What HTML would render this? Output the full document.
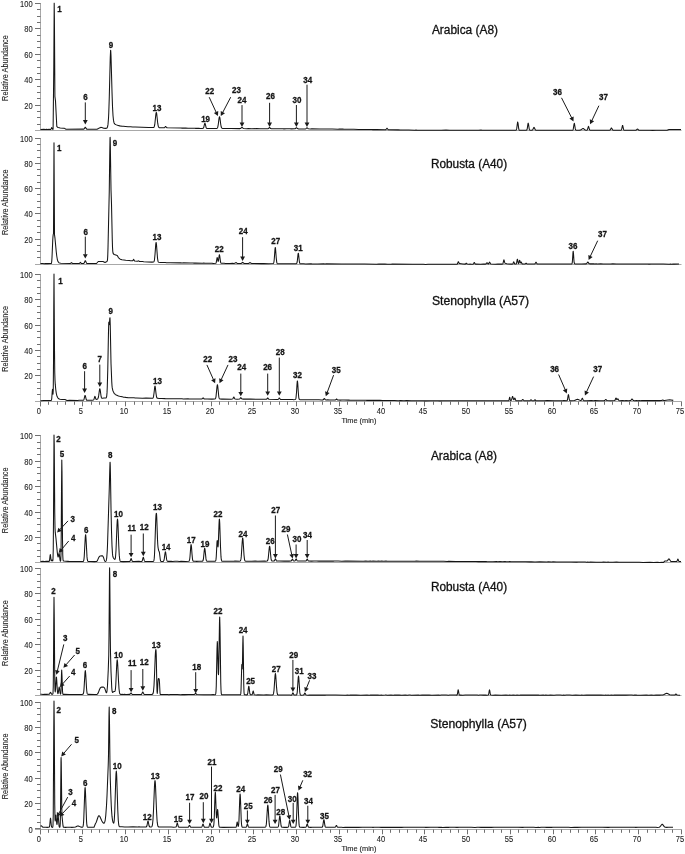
<!DOCTYPE html>
<html><head><meta charset="utf-8"><style>
html,body{margin:0;padding:0;background:#fff;}
svg{display:block;filter:grayscale(100%);}
text{font-family:"Liberation Sans",sans-serif;}
.ax{stroke:#a8a8a8;stroke-width:1;fill:none;}
.tk{stroke:#707070;stroke-width:1;fill:none;}
.tr{stroke:#151515;stroke-width:1.05;fill:none;stroke-linejoin:round;}
.ar{stroke:#1a1a1a;stroke-width:1;}
.ah{fill:#1a1a1a;}
.yl{font-size:8.3px;fill:#1e1e1e;stroke:#1e1e1e;stroke-width:0.1px;}
.tm{font-size:7.4px;fill:#1e1e1e;stroke:#1e1e1e;stroke-width:0.12px;}
.ra{font-size:8.3px;fill:#1e1e1e;stroke:#1e1e1e;stroke-width:0.1px;}
.pl{font-size:9.2px;font-weight:bold;fill:#141414;stroke:#141414;stroke-width:0.3px;}
.ti{font-size:12px;fill:#111;stroke:#111;stroke-width:0.3px;}
</style></head><body>
<svg width="685" height="854" viewBox="0 0 685 854">
<rect width="685" height="854" fill="#fff"/>

<line x1="40.5" y1="3.00" x2="40.5" y2="131.00" class="ax"/>
<line x1="37.0" y1="124.50" x2="40.5" y2="124.50" class="tk"/>
<line x1="37.0" y1="117.50" x2="40.5" y2="117.50" class="tk"/>
<line x1="37.0" y1="111.50" x2="40.5" y2="111.50" class="tk"/>
<line x1="35.0" y1="105.50" x2="40.5" y2="105.50" class="tk"/>
<line x1="37.0" y1="98.50" x2="40.5" y2="98.50" class="tk"/>
<line x1="37.0" y1="92.50" x2="40.5" y2="92.50" class="tk"/>
<line x1="37.0" y1="86.50" x2="40.5" y2="86.50" class="tk"/>
<line x1="35.0" y1="79.50" x2="40.5" y2="79.50" class="tk"/>
<line x1="37.0" y1="73.50" x2="40.5" y2="73.50" class="tk"/>
<line x1="37.0" y1="67.50" x2="40.5" y2="67.50" class="tk"/>
<line x1="37.0" y1="60.50" x2="40.5" y2="60.50" class="tk"/>
<line x1="35.0" y1="54.50" x2="40.5" y2="54.50" class="tk"/>
<line x1="37.0" y1="47.50" x2="40.5" y2="47.50" class="tk"/>
<line x1="37.0" y1="41.50" x2="40.5" y2="41.50" class="tk"/>
<line x1="37.0" y1="35.50" x2="40.5" y2="35.50" class="tk"/>
<line x1="35.0" y1="28.50" x2="40.5" y2="28.50" class="tk"/>
<line x1="37.0" y1="22.50" x2="40.5" y2="22.50" class="tk"/>
<line x1="37.0" y1="16.50" x2="40.5" y2="16.50" class="tk"/>
<line x1="37.0" y1="9.50" x2="40.5" y2="9.50" class="tk"/>
<line x1="35.0" y1="3.50" x2="40.5" y2="3.50" class="tk"/>
<text transform="translate(32.6,108.95) scale(0.91,1)" text-anchor="end" class="yl">20</text>
<text transform="translate(32.6,82.95) scale(0.91,1)" text-anchor="end" class="yl">40</text>
<text transform="translate(32.6,57.95) scale(0.91,1)" text-anchor="end" class="yl">60</text>
<text transform="translate(32.6,31.95) scale(0.91,1)" text-anchor="end" class="yl">80</text>
<text transform="translate(32.6,6.95) scale(0.91,1)" text-anchor="end" class="yl">100</text>
<line x1="35.0" y1="130.50" x2="681.5" y2="130.50" class="ax"/>
<text transform="translate(7.6,68.00) rotate(-90)" text-anchor="middle" class="ra" textLength="65.8" lengthAdjust="spacingAndGlyphs">Relative Abundance</text>
<text x="431.90" y="34.00" class="ti" textLength="66.10" lengthAdjust="spacingAndGlyphs">Arabica (A8)</text>
<polyline class="tr" points="40.50,129.46 44.00,129.36 45.25,129.43 46.50,129.31 47.75,129.47 49.00,129.37 50.50,129.40 50.75,129.36 51.00,129.16 51.50,127.88 51.70,127.61 52.50,129.18 53.10,129.17 53.80,65.90 54.20,3.15 54.40,18.09 54.90,96.33 55.50,101.02 56.80,126.46 57.50,127.25 58.25,127.59 60.25,128.02 63.25,128.33 64.50,128.35 66.00,129.24 83.50,129.14 84.00,128.98 84.25,128.75 85.00,127.45 85.30,127.23 85.50,127.35 86.25,128.69 86.50,128.98 86.75,129.14 87.25,129.22 97.00,129.19 98.50,128.55 100.00,127.66 100.80,127.39 101.75,127.50 103.75,128.19 105.50,128.37 106.50,128.30 107.00,127.99 107.25,127.63 107.75,126.00 108.00,124.39 108.50,118.23 108.75,113.22 109.25,98.35 110.25,57.74 110.60,50.22 110.75,50.94 111.00,55.73 112.00,91.71 112.50,106.42 113.00,115.55 113.50,120.38 114.00,122.66 114.50,123.69 115.00,124.20 115.75,124.63 117.50,125.31 119.75,125.88 122.00,126.27 123.25,126.28 128.00,126.74 130.50,126.76 132.75,126.98 135.25,127.08 148.50,127.48 153.25,127.53 153.75,127.39 154.00,127.17 154.25,126.74 154.75,124.69 155.75,115.25 156.00,113.30 156.30,112.39 156.50,112.77 156.75,114.20 157.75,123.47 158.25,126.17 158.50,126.88 158.75,127.29 159.25,127.62 161.75,127.77 164.25,127.75 164.75,127.46 165.25,126.73 165.60,126.47 165.75,126.53 166.50,127.56 167.00,127.81 167.50,127.85 180.75,128.01 182.25,128.14 185.75,128.13 188.00,128.27 189.25,128.15 191.75,128.32 194.00,128.25 195.25,128.35 198.75,128.33 200.25,128.42 202.75,128.37 203.25,128.21 203.50,127.92 203.75,127.36 204.50,124.16 204.75,123.40 204.90,123.25 205.00,123.32 205.25,123.97 206.00,127.23 206.25,127.86 206.50,128.20 206.75,128.36 211.00,128.48 216.75,128.44 217.25,128.15 217.50,127.76 217.75,127.09 218.25,124.53 219.00,118.68 219.25,117.32 219.50,116.82 219.75,117.31 220.00,118.66 220.75,124.50 221.25,127.03 221.50,127.68 222.00,128.28 222.75,128.52 224.00,128.59 231.25,128.50 240.00,128.61 240.75,128.45 241.75,127.47 242.00,127.38 242.25,127.48 243.00,128.24 243.50,128.48 246.75,128.71 248.25,128.61 251.75,128.69 256.50,128.61 260.00,128.73 268.00,128.70 268.50,128.54 269.25,127.72 269.60,127.52 270.00,127.78 270.75,128.60 271.25,128.77 274.50,128.68 275.75,128.77 282.75,128.77 284.00,128.86 286.50,128.73 290.00,128.77 291.25,128.89 295.00,128.80 295.50,128.48 296.00,127.91 296.40,127.67 296.75,127.84 297.50,128.60 298.00,128.82 298.50,128.89 305.25,128.91 306.00,128.65 306.75,127.95 307.00,127.86 307.25,127.94 308.25,128.77 310.50,129.01 311.75,128.89 320.00,129.02 322.50,128.92 326.00,128.92 327.25,129.02 332.25,128.98 338.00,129.17 339.25,129.08 341.75,129.14 342.75,129.07 344.00,129.25 346.50,129.18 347.75,129.32 353.75,129.26 358.50,129.43 363.25,129.42 365.75,129.54 371.50,129.50 373.00,129.62 376.50,129.59 385.00,129.74 385.75,129.65 386.00,129.51 386.75,128.45 387.00,128.29 387.25,128.48 388.00,129.57 388.50,129.76 398.25,129.88 400.50,130.02 401.75,129.90 406.50,130.08 408.75,130.03 414.75,130.18 416.00,130.13 417.25,130.28 423.25,130.17 435.25,130.25 439.00,130.17 441.25,130.26 446.00,130.11 449.75,130.26 459.25,130.17 460.50,130.26 465.50,130.19 473.75,130.25 475.00,130.15 478.50,130.25 481.00,130.12 482.25,130.25 488.00,130.22 491.75,130.31 494.00,130.16 495.50,130.26 499.00,130.17 501.25,130.26 508.50,130.18 509.75,130.30 513.25,130.20 514.50,130.27 516.00,130.12 516.25,129.96 516.50,129.48 516.75,128.41 517.50,122.54 517.70,122.01 518.00,123.14 518.75,128.95 519.00,129.80 519.25,130.17 519.50,130.26 520.50,130.19 524.00,130.29 526.25,130.23 526.50,130.19 526.75,130.01 527.00,129.56 527.25,128.61 528.00,123.58 528.20,123.14 528.50,124.12 529.25,129.09 529.50,129.81 529.75,130.11 530.50,130.27 531.75,130.25 532.25,130.12 532.50,129.94 533.00,129.21 533.75,127.56 534.00,127.38 534.25,127.56 535.25,129.70 535.50,129.98 536.00,130.20 537.50,130.16 541.00,130.29 543.25,130.17 545.75,130.31 548.00,130.22 549.25,130.33 551.75,130.24 567.25,130.33 569.75,130.19 572.25,130.30 572.75,130.15 573.00,129.84 573.25,129.13 574.00,124.27 574.30,123.31 574.50,123.76 575.25,128.68 575.50,129.59 575.75,130.02 576.00,130.19 576.75,130.29 579.25,130.31 580.25,130.13 581.00,129.83 582.50,128.68 583.00,128.52 583.25,128.55 583.75,128.80 585.25,130.00 586.00,130.19 587.00,130.13 587.25,129.94 587.50,129.49 588.25,126.77 588.50,126.41 588.75,126.80 589.50,129.53 589.75,129.97 590.25,130.22 601.00,130.34 603.25,130.26 608.00,130.34 609.50,130.24 610.00,130.11 610.25,129.90 611.00,128.41 611.25,128.01 611.40,127.94 611.75,128.28 612.50,129.79 613.00,130.16 614.00,130.29 617.75,130.24 620.75,130.31 621.25,130.10 621.50,129.67 621.75,128.85 622.25,126.33 622.50,125.50 622.60,125.43 622.75,125.61 623.50,129.05 623.75,129.78 624.00,130.14 624.50,130.33 633.25,130.23 635.75,130.29 636.25,130.12 637.25,129.12 637.50,129.03 637.75,129.14 638.75,130.13 639.50,130.27 650.00,130.27 652.50,130.36 656.00,130.25 657.25,130.32 667.00,130.31 669.00,129.45 681.00,129.40"/>
<text transform="translate(59.50,11.99) scale(0.870,1)" text-anchor="middle" class="pl">1</text>
<text transform="translate(85.40,100.19) scale(0.870,1)" text-anchor="middle" class="pl">6</text>
<text transform="translate(111.00,47.59) scale(0.870,1)" text-anchor="middle" class="pl">9</text>
<text transform="translate(157.00,110.99) scale(0.870,1)" text-anchor="middle" class="pl">13</text>
<text transform="translate(205.60,121.79) scale(0.870,1)" text-anchor="middle" class="pl">19</text>
<text transform="translate(209.70,93.99) scale(0.870,1)" text-anchor="middle" class="pl">22</text>
<text transform="translate(236.40,92.99) scale(0.870,1)" text-anchor="middle" class="pl">23</text>
<text transform="translate(242.00,102.99) scale(0.870,1)" text-anchor="middle" class="pl">24</text>
<text transform="translate(270.50,99.29) scale(0.870,1)" text-anchor="middle" class="pl">26</text>
<text transform="translate(297.00,102.99) scale(0.870,1)" text-anchor="middle" class="pl">30</text>
<text transform="translate(307.70,82.99) scale(0.870,1)" text-anchor="middle" class="pl">34</text>
<text transform="translate(557.50,94.99) scale(0.870,1)" text-anchor="middle" class="pl">36</text>
<text transform="translate(603.50,100.19) scale(0.870,1)" text-anchor="middle" class="pl">37</text>
<line x1="85.30" y1="102.40" x2="85.30" y2="120.60" class="ar"/><polygon points="85.30,124.50 82.90,120.10 87.70,120.10" class="ah"/>
<line x1="209.20" y1="97.20" x2="216.27" y2="112.56" class="ar"/><polygon points="217.90,116.10 213.88,113.11 218.24,111.10" class="ah"/>
<line x1="230.70" y1="97.20" x2="222.61" y2="112.65" class="ar"/><polygon points="220.80,116.10 220.72,111.09 224.97,113.32" class="ah"/>
<line x1="242.00" y1="105.10" x2="242.00" y2="123.00" class="ar"/><polygon points="242.00,126.90 239.60,122.50 244.40,122.50" class="ah"/>
<line x1="269.60" y1="102.80" x2="269.60" y2="123.00" class="ar"/><polygon points="269.60,126.90 267.20,122.50 272.00,122.50" class="ah"/>
<line x1="296.40" y1="105.00" x2="296.40" y2="123.00" class="ar"/><polygon points="296.40,126.90 294.00,122.50 298.80,122.50" class="ah"/>
<line x1="307.00" y1="84.70" x2="307.00" y2="123.00" class="ar"/><polygon points="307.00,126.90 304.60,122.50 309.40,122.50" class="ah"/>
<line x1="561.50" y1="97.80" x2="571.73" y2="117.92" class="ar"/><polygon points="573.50,121.40 569.37,118.57 573.65,116.39" class="ah"/>
<line x1="598.90" y1="105.70" x2="591.77" y2="120.77" class="ar"/><polygon points="590.10,124.30 589.81,119.30 594.15,121.35" class="ah"/>
<line x1="40.5" y1="138.00" x2="40.5" y2="265.00" class="ax"/>
<line x1="37.0" y1="257.50" x2="40.5" y2="257.50" class="tk"/>
<line x1="37.0" y1="251.50" x2="40.5" y2="251.50" class="tk"/>
<line x1="37.0" y1="245.50" x2="40.5" y2="245.50" class="tk"/>
<line x1="35.0" y1="239.50" x2="40.5" y2="239.50" class="tk"/>
<line x1="37.0" y1="232.50" x2="40.5" y2="232.50" class="tk"/>
<line x1="37.0" y1="226.50" x2="40.5" y2="226.50" class="tk"/>
<line x1="37.0" y1="220.50" x2="40.5" y2="220.50" class="tk"/>
<line x1="35.0" y1="213.50" x2="40.5" y2="213.50" class="tk"/>
<line x1="37.0" y1="207.50" x2="40.5" y2="207.50" class="tk"/>
<line x1="37.0" y1="201.50" x2="40.5" y2="201.50" class="tk"/>
<line x1="37.0" y1="194.50" x2="40.5" y2="194.50" class="tk"/>
<line x1="35.0" y1="188.50" x2="40.5" y2="188.50" class="tk"/>
<line x1="37.0" y1="182.50" x2="40.5" y2="182.50" class="tk"/>
<line x1="37.0" y1="175.50" x2="40.5" y2="175.50" class="tk"/>
<line x1="37.0" y1="169.50" x2="40.5" y2="169.50" class="tk"/>
<line x1="35.0" y1="163.50" x2="40.5" y2="163.50" class="tk"/>
<line x1="37.0" y1="157.50" x2="40.5" y2="157.50" class="tk"/>
<line x1="37.0" y1="150.50" x2="40.5" y2="150.50" class="tk"/>
<line x1="37.0" y1="144.50" x2="40.5" y2="144.50" class="tk"/>
<line x1="35.0" y1="138.50" x2="40.5" y2="138.50" class="tk"/>
<text transform="translate(32.6,242.95) scale(0.91,1)" text-anchor="end" class="yl">20</text>
<text transform="translate(32.6,216.95) scale(0.91,1)" text-anchor="end" class="yl">40</text>
<text transform="translate(32.6,191.95) scale(0.91,1)" text-anchor="end" class="yl">60</text>
<text transform="translate(32.6,166.95) scale(0.91,1)" text-anchor="end" class="yl">80</text>
<text transform="translate(32.6,141.95) scale(0.91,1)" text-anchor="end" class="yl">100</text>
<line x1="35.0" y1="264.50" x2="681.5" y2="264.50" class="ax"/>
<text transform="translate(7.6,202.20) rotate(-90)" text-anchor="middle" class="ra" textLength="65.8" lengthAdjust="spacingAndGlyphs">Relative Abundance</text>
<text x="430.90" y="167.80" class="ti" textLength="76.20" lengthAdjust="spacingAndGlyphs">Robusta (A40)</text>
<polyline class="tr" points="40.50,263.58 43.00,263.53 44.00,263.65 45.25,263.53 47.75,263.62 51.00,263.55 51.25,263.46 51.50,262.94 51.75,261.20 52.00,257.42 52.75,239.94 53.00,236.31 53.25,234.39 53.50,233.62 54.00,142.77 54.50,234.66 55.00,238.44 56.25,251.72 56.75,255.98 57.25,259.03 57.50,260.11 58.00,261.56 58.50,262.32 59.00,262.72 59.75,262.97 61.00,263.16 70.25,263.48 70.75,263.33 71.25,262.74 71.50,262.58 71.75,262.73 72.25,263.31 72.50,263.42 77.75,263.58 79.50,263.37 80.40,262.41 81.25,263.40 81.75,263.53 82.75,263.55 83.50,263.49 84.00,263.24 84.50,262.33 85.00,261.00 85.30,260.68 85.50,260.83 86.50,263.13 87.00,263.47 89.75,263.53 91.00,263.44 92.00,263.56 93.25,263.56 96.50,263.51 98.25,261.47 100.50,261.54 103.00,261.49 105.00,262.51 106.50,261.72 107.25,261.09 107.50,259.68 107.75,255.61 108.00,247.70 109.25,192.04 109.75,153.91 110.00,138.92 110.10,137.31 110.25,140.48 111.00,189.44 111.50,203.96 112.25,239.00 112.50,247.08 112.75,251.27 113.00,253.00 113.25,253.64 113.50,253.97 114.25,254.49 117.25,255.57 118.25,257.35 119.25,258.49 120.25,259.19 122.00,259.81 125.75,260.29 129.25,260.56 130.50,260.78 131.75,260.73 132.50,260.82 132.75,260.72 133.00,260.39 133.50,259.36 133.60,259.31 133.75,259.44 134.25,260.60 134.50,260.91 134.75,261.02 137.25,261.25 137.75,261.15 138.40,260.82 139.25,261.38 140.00,261.50 142.50,261.55 143.75,261.73 152.00,262.14 153.50,262.00 153.75,261.87 154.00,261.54 154.25,260.84 154.50,259.56 155.00,254.57 155.75,244.30 156.00,242.66 156.10,242.51 156.25,242.85 156.50,244.84 157.50,258.06 158.00,261.19 158.25,261.83 158.50,262.13 158.75,262.24 160.50,262.46 163.00,262.45 165.25,262.55 166.50,262.70 170.25,262.66 180.75,262.86 182.00,263.01 183.50,262.89 190.50,263.09 193.00,263.03 194.00,263.11 195.25,263.02 202.50,263.21 203.75,263.13 205.00,263.23 212.00,263.19 213.25,263.41 215.50,263.35 215.75,263.29 216.00,263.04 216.25,262.40 217.00,258.03 217.20,257.59 217.50,258.50 218.00,261.20 218.25,261.35 218.50,260.36 219.25,254.99 219.40,254.73 219.50,254.85 219.75,256.08 220.50,261.76 220.75,262.68 221.00,263.12 221.50,263.34 224.00,263.30 225.50,263.41 230.00,263.49 232.50,263.39 234.00,263.47 234.75,263.35 235.75,262.63 236.00,262.55 236.25,262.63 237.00,263.25 237.50,263.45 241.00,263.49 241.50,263.35 242.25,262.55 242.60,262.31 243.00,262.53 243.75,263.35 244.50,263.57 245.75,263.45 247.00,263.55 248.50,263.52 249.00,263.30 249.75,262.66 250.00,262.57 250.25,262.65 251.00,263.30 251.75,263.56 261.50,263.64 263.75,263.57 268.50,263.69 273.00,263.59 273.50,263.29 273.75,262.72 274.00,261.49 274.25,259.31 275.00,249.09 275.30,247.43 275.50,248.17 276.25,258.10 276.75,262.35 277.00,263.18 277.25,263.54 277.50,263.67 278.00,263.73 280.50,263.66 284.25,263.78 286.50,263.69 288.75,263.77 292.50,263.68 293.75,263.78 296.00,263.72 296.50,263.61 296.75,263.36 297.00,262.73 297.25,261.46 298.00,254.44 298.30,253.20 298.50,253.78 299.25,260.76 299.50,262.34 299.75,263.20 300.00,263.59 300.25,263.73 300.75,263.80 303.50,263.78 305.75,263.90 310.50,263.78 311.75,263.89 317.75,263.91 323.75,263.80 325.00,263.96 326.25,263.85 341.75,263.99 345.25,263.90 351.25,264.09 355.00,263.99 364.50,264.00 376.50,264.18 378.75,264.05 380.25,264.14 385.00,264.09 387.50,264.21 389.75,264.15 391.00,264.25 392.25,264.14 412.50,264.30 413.75,264.21 416.25,264.30 423.25,264.24 425.75,264.41 428.00,264.21 431.75,264.33 434.00,264.24 435.50,264.32 437.75,264.19 439.00,264.28 448.50,264.22 456.75,264.28 457.00,264.23 457.25,264.05 457.50,263.63 458.25,261.74 458.50,261.80 459.00,263.10 459.25,263.45 459.50,263.60 463.00,264.08 465.25,264.13 465.50,264.03 466.30,263.17 466.50,263.27 467.00,263.89 467.50,264.08 469.00,264.17 470.00,264.12 471.25,264.27 472.75,264.19 473.25,264.05 473.50,263.79 474.00,262.79 474.30,262.47 474.50,262.64 475.00,263.66 475.25,263.98 475.75,264.14 480.75,264.21 483.25,264.11 485.25,264.13 485.75,263.99 486.00,263.82 486.75,262.95 487.00,262.84 487.25,262.94 488.00,263.79 488.25,263.93 488.50,263.91 488.75,263.65 489.25,262.57 489.60,262.13 489.75,262.22 490.50,263.74 490.75,264.00 491.00,264.10 495.25,264.22 497.75,264.11 502.25,264.10 502.50,264.06 502.75,263.89 503.00,263.40 503.75,260.19 504.00,259.87 504.75,262.73 505.00,263.11 505.25,263.29 506.75,263.72 508.25,263.98 512.00,264.14 512.50,264.08 512.75,263.90 513.00,263.46 513.50,262.07 513.70,261.85 514.00,262.30 514.50,263.63 514.75,263.94 515.00,264.05 515.50,264.07 516.00,264.03 516.25,263.88 516.50,263.41 517.25,259.47 517.40,259.20 517.50,259.32 517.75,260.47 518.25,263.21 518.50,263.64 518.75,263.40 519.25,261.32 519.50,260.42 519.60,260.32 519.75,260.50 520.25,262.50 520.50,262.91 520.75,262.66 521.00,262.18 521.25,262.04 522.00,263.68 522.25,263.96 522.50,264.05 525.25,263.99 526.10,263.16 526.25,263.20 526.75,263.75 527.25,263.98 532.50,264.09 534.50,264.02 535.00,263.80 535.75,262.40 536.00,262.18 536.25,262.40 537.00,263.81 537.50,264.04 542.00,263.97 544.50,264.05 546.75,263.94 549.25,264.03 550.50,263.95 556.50,264.03 564.75,263.92 566.25,264.02 571.50,263.93 571.75,263.88 572.00,263.60 572.25,262.59 572.50,260.15 573.00,252.39 573.20,251.18 573.50,253.71 574.00,261.26 574.25,263.03 574.50,263.66 574.75,263.83 575.00,263.88 580.50,264.01 581.75,263.90 586.00,263.89 586.50,263.73 586.75,263.50 587.50,262.28 587.80,262.06 588.00,262.16 589.00,263.62 589.50,263.85 590.00,263.89 593.75,263.86 595.00,263.95 596.00,263.86 597.25,263.99 600.75,263.88 603.25,263.97 604.50,263.90 610.50,263.98 612.75,263.86 616.50,263.99 617.75,263.90 620.00,264.02 621.25,263.92 622.50,263.99 626.00,263.93 627.25,264.03 628.50,263.91 632.00,264.03 639.25,264.07 641.75,263.96 643.00,264.06 647.75,264.00 649.00,264.11 651.25,263.96 655.00,264.09 657.25,263.98 663.25,263.99 669.25,264.15 670.50,264.06 671.75,264.15 673.00,264.01 674.25,264.11 679.00,264.08"/>
<text transform="translate(59.30,150.79) scale(0.870,1)" text-anchor="middle" class="pl">1</text>
<text transform="translate(85.70,234.99) scale(0.870,1)" text-anchor="middle" class="pl">6</text>
<text transform="translate(115.00,145.59) scale(0.870,1)" text-anchor="middle" class="pl">9</text>
<text transform="translate(157.00,240.19) scale(0.870,1)" text-anchor="middle" class="pl">13</text>
<text transform="translate(219.30,252.29) scale(0.870,1)" text-anchor="middle" class="pl">22</text>
<text transform="translate(243.20,234.19) scale(0.870,1)" text-anchor="middle" class="pl">24</text>
<text transform="translate(275.80,244.29) scale(0.870,1)" text-anchor="middle" class="pl">27</text>
<text transform="translate(298.30,251.39) scale(0.870,1)" text-anchor="middle" class="pl">31</text>
<text transform="translate(573.00,248.99) scale(0.870,1)" text-anchor="middle" class="pl">36</text>
<text transform="translate(602.50,237.09) scale(0.870,1)" text-anchor="middle" class="pl">37</text>
<line x1="85.30" y1="236.60" x2="85.30" y2="254.70" class="ar"/><polygon points="85.30,258.60 82.90,254.20 87.70,254.20" class="ah"/>
<line x1="242.60" y1="237.20" x2="242.60" y2="257.00" class="ar"/><polygon points="242.60,260.90 240.20,256.50 245.00,256.50" class="ah"/>
<line x1="597.70" y1="240.70" x2="590.27" y2="256.38" class="ar"/><polygon points="588.60,259.90 588.32,254.90 592.65,256.95" class="ah"/>
<line x1="40.5" y1="274.00" x2="40.5" y2="406.30" class="ax"/>
<line x1="37.0" y1="394.50" x2="40.5" y2="394.50" class="tk"/>
<line x1="37.0" y1="388.50" x2="40.5" y2="388.50" class="tk"/>
<line x1="37.0" y1="382.50" x2="40.5" y2="382.50" class="tk"/>
<line x1="35.0" y1="375.50" x2="40.5" y2="375.50" class="tk"/>
<line x1="37.0" y1="369.50" x2="40.5" y2="369.50" class="tk"/>
<line x1="37.0" y1="363.50" x2="40.5" y2="363.50" class="tk"/>
<line x1="37.0" y1="356.50" x2="40.5" y2="356.50" class="tk"/>
<line x1="35.0" y1="350.50" x2="40.5" y2="350.50" class="tk"/>
<line x1="37.0" y1="344.50" x2="40.5" y2="344.50" class="tk"/>
<line x1="37.0" y1="337.50" x2="40.5" y2="337.50" class="tk"/>
<line x1="37.0" y1="331.50" x2="40.5" y2="331.50" class="tk"/>
<line x1="35.0" y1="325.50" x2="40.5" y2="325.50" class="tk"/>
<line x1="37.0" y1="318.50" x2="40.5" y2="318.50" class="tk"/>
<line x1="37.0" y1="312.50" x2="40.5" y2="312.50" class="tk"/>
<line x1="37.0" y1="306.50" x2="40.5" y2="306.50" class="tk"/>
<line x1="35.0" y1="299.50" x2="40.5" y2="299.50" class="tk"/>
<line x1="37.0" y1="293.50" x2="40.5" y2="293.50" class="tk"/>
<line x1="37.0" y1="287.50" x2="40.5" y2="287.50" class="tk"/>
<line x1="37.0" y1="280.50" x2="40.5" y2="280.50" class="tk"/>
<line x1="35.0" y1="274.50" x2="40.5" y2="274.50" class="tk"/>
<text transform="translate(32.6,378.95) scale(0.91,1)" text-anchor="end" class="yl">20</text>
<text transform="translate(32.6,353.95) scale(0.91,1)" text-anchor="end" class="yl">40</text>
<text transform="translate(32.6,328.95) scale(0.91,1)" text-anchor="end" class="yl">60</text>
<text transform="translate(32.6,302.95) scale(0.91,1)" text-anchor="end" class="yl">80</text>
<text transform="translate(32.6,277.95) scale(0.91,1)" text-anchor="end" class="yl">100</text>
<line x1="35.0" y1="401.50" x2="681.5" y2="401.50" class="ax"/>
<line x1="40.50" y1="401.50" x2="40.50" y2="406.30" class="tk"/>
<text transform="translate(38.90,413.50) scale(0.91,1)" text-anchor="middle" class="yl">0</text>
<line x1="48.50" y1="401.50" x2="48.50" y2="404.80" class="tk"/>
<line x1="57.50" y1="401.50" x2="57.50" y2="404.80" class="tk"/>
<line x1="65.50" y1="401.50" x2="65.50" y2="404.80" class="tk"/>
<line x1="74.50" y1="401.50" x2="74.50" y2="404.80" class="tk"/>
<line x1="82.50" y1="401.50" x2="82.50" y2="406.30" class="tk"/>
<text transform="translate(80.90,413.50) scale(0.91,1)" text-anchor="middle" class="yl">5</text>
<line x1="91.50" y1="401.50" x2="91.50" y2="404.80" class="tk"/>
<line x1="99.50" y1="401.50" x2="99.50" y2="404.80" class="tk"/>
<line x1="108.50" y1="401.50" x2="108.50" y2="404.80" class="tk"/>
<line x1="116.50" y1="401.50" x2="116.50" y2="404.80" class="tk"/>
<line x1="125.50" y1="401.50" x2="125.50" y2="406.30" class="tk"/>
<text transform="translate(123.90,413.50) scale(0.91,1)" text-anchor="middle" class="yl">10</text>
<line x1="134.50" y1="401.50" x2="134.50" y2="404.80" class="tk"/>
<line x1="142.50" y1="401.50" x2="142.50" y2="404.80" class="tk"/>
<line x1="151.50" y1="401.50" x2="151.50" y2="404.80" class="tk"/>
<line x1="159.50" y1="401.50" x2="159.50" y2="404.80" class="tk"/>
<line x1="168.50" y1="401.50" x2="168.50" y2="406.30" class="tk"/>
<text transform="translate(166.90,413.50) scale(0.91,1)" text-anchor="middle" class="yl">15</text>
<line x1="176.50" y1="401.50" x2="176.50" y2="404.80" class="tk"/>
<line x1="185.50" y1="401.50" x2="185.50" y2="404.80" class="tk"/>
<line x1="193.50" y1="401.50" x2="193.50" y2="404.80" class="tk"/>
<line x1="202.50" y1="401.50" x2="202.50" y2="404.80" class="tk"/>
<line x1="211.50" y1="401.50" x2="211.50" y2="406.30" class="tk"/>
<text transform="translate(209.90,413.50) scale(0.91,1)" text-anchor="middle" class="yl">20</text>
<line x1="219.50" y1="401.50" x2="219.50" y2="404.80" class="tk"/>
<line x1="228.50" y1="401.50" x2="228.50" y2="404.80" class="tk"/>
<line x1="236.50" y1="401.50" x2="236.50" y2="404.80" class="tk"/>
<line x1="245.50" y1="401.50" x2="245.50" y2="404.80" class="tk"/>
<line x1="253.50" y1="401.50" x2="253.50" y2="406.30" class="tk"/>
<text transform="translate(251.90,413.50) scale(0.91,1)" text-anchor="middle" class="yl">25</text>
<line x1="262.50" y1="401.50" x2="262.50" y2="404.80" class="tk"/>
<line x1="270.50" y1="401.50" x2="270.50" y2="404.80" class="tk"/>
<line x1="279.50" y1="401.50" x2="279.50" y2="404.80" class="tk"/>
<line x1="287.50" y1="401.50" x2="287.50" y2="404.80" class="tk"/>
<line x1="296.50" y1="401.50" x2="296.50" y2="406.30" class="tk"/>
<text transform="translate(294.90,413.50) scale(0.91,1)" text-anchor="middle" class="yl">30</text>
<line x1="305.50" y1="401.50" x2="305.50" y2="404.80" class="tk"/>
<line x1="313.50" y1="401.50" x2="313.50" y2="404.80" class="tk"/>
<line x1="322.50" y1="401.50" x2="322.50" y2="404.80" class="tk"/>
<line x1="330.50" y1="401.50" x2="330.50" y2="404.80" class="tk"/>
<line x1="339.50" y1="401.50" x2="339.50" y2="406.30" class="tk"/>
<text transform="translate(337.90,413.50) scale(0.91,1)" text-anchor="middle" class="yl">35</text>
<line x1="347.50" y1="401.50" x2="347.50" y2="404.80" class="tk"/>
<line x1="356.50" y1="401.50" x2="356.50" y2="404.80" class="tk"/>
<line x1="364.50" y1="401.50" x2="364.50" y2="404.80" class="tk"/>
<line x1="373.50" y1="401.50" x2="373.50" y2="404.80" class="tk"/>
<line x1="382.50" y1="401.50" x2="382.50" y2="406.30" class="tk"/>
<text transform="translate(380.90,413.50) scale(0.91,1)" text-anchor="middle" class="yl">40</text>
<line x1="390.50" y1="401.50" x2="390.50" y2="404.80" class="tk"/>
<line x1="399.50" y1="401.50" x2="399.50" y2="404.80" class="tk"/>
<line x1="407.50" y1="401.50" x2="407.50" y2="404.80" class="tk"/>
<line x1="416.50" y1="401.50" x2="416.50" y2="404.80" class="tk"/>
<line x1="424.50" y1="401.50" x2="424.50" y2="406.30" class="tk"/>
<text transform="translate(422.90,413.50) scale(0.91,1)" text-anchor="middle" class="yl">45</text>
<line x1="433.50" y1="401.50" x2="433.50" y2="404.80" class="tk"/>
<line x1="441.50" y1="401.50" x2="441.50" y2="404.80" class="tk"/>
<line x1="450.50" y1="401.50" x2="450.50" y2="404.80" class="tk"/>
<line x1="458.50" y1="401.50" x2="458.50" y2="404.80" class="tk"/>
<line x1="467.50" y1="401.50" x2="467.50" y2="406.30" class="tk"/>
<text transform="translate(465.90,413.50) scale(0.91,1)" text-anchor="middle" class="yl">50</text>
<line x1="476.50" y1="401.50" x2="476.50" y2="404.80" class="tk"/>
<line x1="484.50" y1="401.50" x2="484.50" y2="404.80" class="tk"/>
<line x1="493.50" y1="401.50" x2="493.50" y2="404.80" class="tk"/>
<line x1="501.50" y1="401.50" x2="501.50" y2="404.80" class="tk"/>
<line x1="510.50" y1="401.50" x2="510.50" y2="406.30" class="tk"/>
<text transform="translate(508.90,413.50) scale(0.91,1)" text-anchor="middle" class="yl">55</text>
<line x1="518.50" y1="401.50" x2="518.50" y2="404.80" class="tk"/>
<line x1="527.50" y1="401.50" x2="527.50" y2="404.80" class="tk"/>
<line x1="535.50" y1="401.50" x2="535.50" y2="404.80" class="tk"/>
<line x1="544.50" y1="401.50" x2="544.50" y2="404.80" class="tk"/>
<line x1="553.50" y1="401.50" x2="553.50" y2="406.30" class="tk"/>
<text transform="translate(551.90,413.50) scale(0.91,1)" text-anchor="middle" class="yl">60</text>
<line x1="561.50" y1="401.50" x2="561.50" y2="404.80" class="tk"/>
<line x1="570.50" y1="401.50" x2="570.50" y2="404.80" class="tk"/>
<line x1="578.50" y1="401.50" x2="578.50" y2="404.80" class="tk"/>
<line x1="587.50" y1="401.50" x2="587.50" y2="404.80" class="tk"/>
<line x1="595.50" y1="401.50" x2="595.50" y2="406.30" class="tk"/>
<text transform="translate(593.90,413.50) scale(0.91,1)" text-anchor="middle" class="yl">65</text>
<line x1="604.50" y1="401.50" x2="604.50" y2="404.80" class="tk"/>
<line x1="612.50" y1="401.50" x2="612.50" y2="404.80" class="tk"/>
<line x1="621.50" y1="401.50" x2="621.50" y2="404.80" class="tk"/>
<line x1="629.50" y1="401.50" x2="629.50" y2="404.80" class="tk"/>
<line x1="638.50" y1="401.50" x2="638.50" y2="406.30" class="tk"/>
<text transform="translate(636.90,413.50) scale(0.91,1)" text-anchor="middle" class="yl">70</text>
<line x1="647.50" y1="401.50" x2="647.50" y2="404.80" class="tk"/>
<line x1="655.50" y1="401.50" x2="655.50" y2="404.80" class="tk"/>
<line x1="664.50" y1="401.50" x2="664.50" y2="404.80" class="tk"/>
<line x1="672.50" y1="401.50" x2="672.50" y2="404.80" class="tk"/>
<line x1="681.50" y1="401.50" x2="681.50" y2="406.30" class="tk"/>
<text transform="translate(679.90,413.50) scale(0.91,1)" text-anchor="middle" class="yl">75</text>
<text x="358.9" y="422.60" text-anchor="middle" class="tm">Time (min)</text>
<text transform="translate(7.6,338.85) rotate(-90)" text-anchor="middle" class="ra" textLength="65.8" lengthAdjust="spacingAndGlyphs">Relative Abundance</text>
<text x="431.90" y="304.90" class="ti" textLength="97.10" lengthAdjust="spacingAndGlyphs">Stenophylla (A57)</text>
<polyline class="tr" points="40.50,400.67 44.00,400.53 50.00,400.60 51.25,400.36 51.50,399.92 51.75,398.47 52.25,391.24 52.50,389.25 53.00,394.13 53.25,390.25 53.50,363.29 53.75,307.93 54.00,274.04 54.50,350.24 54.75,372.46 55.00,380.21 55.25,384.17 55.75,389.55 56.25,393.06 56.75,395.33 57.25,396.80 58.00,398.10 58.75,398.75 60.00,399.26 62.00,399.57 65.00,399.56 67.00,400.45 69.50,400.35 77.75,400.43 79.00,400.30 83.25,400.23 83.50,400.15 83.75,399.91 84.00,399.39 84.75,396.22 85.00,395.53 85.10,395.47 85.25,395.63 85.50,396.46 86.25,399.59 86.50,400.03 86.75,400.23 87.25,400.31 91.00,400.29 92.00,400.23 93.50,399.92 93.75,399.70 94.00,399.23 94.75,396.55 94.90,396.37 95.00,396.42 95.25,397.03 95.75,398.76 96.00,399.21 96.25,399.38 97.00,399.33 97.50,399.11 97.75,398.89 98.25,397.83 98.75,395.17 99.50,389.53 99.80,388.71 100.00,389.03 100.25,390.31 101.00,395.80 101.25,397.00 101.50,397.74 101.75,398.12 102.00,398.28 102.50,398.31 104.00,398.04 105.75,398.01 106.25,397.74 106.50,397.17 106.75,395.79 107.00,392.90 107.25,387.81 107.75,370.39 108.50,331.21 108.75,322.44 109.00,322.02 109.25,324.62 109.50,323.34 109.75,318.64 110.00,317.67 110.25,325.22 111.00,363.17 111.75,381.65 112.00,385.70 112.25,387.89 112.75,390.20 113.50,392.16 114.25,393.36 115.50,394.59 116.25,395.10 118.50,395.99 119.75,396.35 123.25,397.11 124.50,397.17 125.75,397.39 128.25,397.65 134.00,397.85 135.25,398.00 136.50,397.94 142.50,398.18 146.00,398.08 152.50,398.26 153.00,397.95 153.25,397.49 153.50,396.65 154.00,393.28 154.75,386.76 155.00,386.11 155.25,386.78 156.00,393.36 156.50,396.72 156.75,397.57 157.00,398.03 157.50,398.35 159.25,398.54 161.75,398.46 165.25,398.62 182.00,398.80 183.25,398.90 188.00,398.84 189.50,398.93 195.50,398.96 197.75,399.08 201.25,399.05 202.00,398.93 202.25,398.76 202.75,398.13 203.10,397.88 203.25,397.93 204.00,398.81 204.25,398.97 204.75,399.07 207.25,398.99 212.00,399.12 214.75,399.08 215.25,398.87 215.50,398.52 215.75,397.82 216.00,396.58 217.00,386.60 217.25,384.99 217.40,384.71 217.50,384.84 217.75,386.21 218.75,396.27 219.00,397.64 219.25,398.43 219.50,398.82 220.00,399.05 221.75,399.14 223.00,399.06 231.25,399.15 232.25,399.08 232.75,398.86 233.00,398.51 233.50,397.35 233.80,397.00 234.00,397.16 234.75,398.76 235.00,398.98 237.25,399.22 239.50,399.02 240.00,398.67 240.50,397.87 240.80,397.65 241.00,397.76 241.75,398.86 242.25,399.06 243.25,399.13 250.50,399.06 256.50,399.26 261.25,399.17 266.00,399.32 266.50,399.24 266.75,399.09 267.50,398.08 267.70,397.98 268.00,398.20 268.50,398.94 269.00,399.25 277.00,399.46 277.75,399.42 278.25,399.26 278.50,399.02 279.00,398.22 279.30,397.98 279.50,398.09 280.25,399.20 280.75,399.42 286.50,399.57 292.50,399.55 293.75,399.66 295.00,399.57 295.50,399.37 295.75,398.91 296.00,397.85 296.50,392.52 297.00,384.22 297.25,381.48 297.40,380.99 297.50,381.21 297.75,383.51 298.25,391.72 298.75,397.50 299.00,398.76 299.25,399.35 299.50,399.58 300.00,399.67 306.75,399.69 310.50,399.82 311.75,399.66 313.00,399.78 319.00,399.83 321.50,399.96 322.75,399.87 323.25,399.74 323.50,399.51 324.00,398.73 324.30,398.50 324.50,398.60 325.25,399.66 325.50,399.81 326.00,399.90 327.50,399.87 329.75,400.04 335.25,400.01 335.75,399.79 336.25,399.27 336.60,399.07 336.75,399.12 337.50,399.88 338.00,400.05 340.50,400.11 341.75,399.96 344.00,400.09 348.75,400.10 350.25,400.24 352.50,400.16 358.50,400.28 359.75,400.17 361.00,400.27 363.25,400.22 364.50,400.32 365.75,400.25 367.00,400.36 371.75,400.37 373.00,400.29 374.25,400.37 380.00,400.39 382.50,400.54 383.75,400.45 388.50,400.58 389.75,400.47 394.50,400.49 398.25,400.65 400.50,400.57 404.00,400.70 406.50,400.61 411.25,400.78 418.50,400.69 419.75,400.80 423.25,400.74 424.50,400.88 430.50,400.70 433.00,400.82 436.50,400.82 437.75,400.73 440.00,400.86 442.50,400.70 446.00,400.79 449.75,400.69 452.25,400.84 454.50,400.71 455.75,400.78 457.00,400.66 458.25,400.78 464.25,400.80 467.75,400.69 473.75,400.81 475.00,400.72 482.00,400.80 483.25,400.74 487.00,400.80 488.00,400.70 492.75,400.79 494.25,400.69 497.75,400.75 499.00,400.67 508.25,400.72 508.75,400.64 509.00,400.25 509.50,397.72 509.70,397.19 510.00,398.25 510.25,399.64 510.50,400.39 510.75,400.56 511.00,400.50 511.25,400.31 511.50,399.88 511.75,399.13 512.25,397.15 512.50,396.55 512.60,396.49 512.75,396.62 513.00,397.34 513.50,399.27 513.75,399.77 514.00,399.72 514.50,398.47 514.80,398.05 515.00,398.27 515.75,400.36 516.00,400.64 516.50,400.76 521.50,400.70 522.00,400.39 522.50,399.66 522.80,399.45 523.00,399.54 523.75,400.49 524.25,400.67 525.25,400.72 527.75,400.79 530.00,400.65 530.25,400.53 530.75,399.94 531.00,399.77 531.25,399.93 531.75,400.53 532.00,400.65 534.00,400.65 534.25,400.54 534.75,399.90 535.00,399.73 535.25,399.91 535.75,400.57 536.25,400.74 544.50,400.75 547.00,400.63 554.00,400.76 555.25,400.68 557.50,400.74 559.00,400.65 562.50,400.69 563.75,400.62 566.50,400.72 567.00,400.61 567.25,400.30 567.50,399.53 568.25,394.94 568.40,394.67 568.50,394.79 568.75,395.98 569.25,399.27 569.50,400.14 569.75,400.51 570.00,400.65 570.75,400.74 574.50,400.52 576.75,399.46 577.50,399.28 578.25,399.44 580.00,400.35 580.50,400.49 581.00,400.50 581.25,400.34 581.50,399.94 582.00,398.60 582.30,398.21 582.50,398.41 583.25,400.30 583.50,400.56 584.00,400.68 586.50,400.72 591.25,400.61 593.75,400.73 595.00,400.63 599.75,400.72 604.00,400.63 604.75,400.49 605.50,399.66 605.80,399.47 606.00,399.56 606.75,400.43 607.25,400.60 610.50,400.67 614.50,400.58 614.75,400.50 615.00,400.27 615.75,398.30 616.00,397.98 616.25,398.27 616.75,399.55 617.00,399.74 617.80,398.73 618.00,398.88 618.75,400.35 619.00,400.56 619.50,400.66 622.50,400.57 624.75,400.69 626.00,400.59 628.50,400.68 630.50,400.59 631.00,400.29 631.75,399.15 632.00,398.99 632.25,399.12 633.00,400.19 633.25,400.40 633.75,400.60 634.50,400.69 636.75,400.61 638.00,400.66 639.25,400.55 640.50,400.70 641.75,400.59 659.50,400.63 661.50,400.53 662.80,399.95 663.75,400.47 664.50,400.55 669.75,399.84 671.00,399.93 673.25,400.37"/>
<text transform="translate(60.40,283.99) scale(0.870,1)" text-anchor="middle" class="pl">1</text>
<text transform="translate(84.60,369.09) scale(0.870,1)" text-anchor="middle" class="pl">6</text>
<text transform="translate(99.80,362.09) scale(0.870,1)" text-anchor="middle" class="pl">7</text>
<text transform="translate(110.70,313.89) scale(0.870,1)" text-anchor="middle" class="pl">9</text>
<text transform="translate(157.50,383.59) scale(0.870,1)" text-anchor="middle" class="pl">13</text>
<text transform="translate(207.80,361.79) scale(0.870,1)" text-anchor="middle" class="pl">22</text>
<text transform="translate(233.00,361.79) scale(0.870,1)" text-anchor="middle" class="pl">23</text>
<text transform="translate(241.70,370.39) scale(0.870,1)" text-anchor="middle" class="pl">24</text>
<text transform="translate(267.60,370.39) scale(0.870,1)" text-anchor="middle" class="pl">26</text>
<text transform="translate(280.20,355.39) scale(0.870,1)" text-anchor="middle" class="pl">28</text>
<text transform="translate(297.40,377.99) scale(0.870,1)" text-anchor="middle" class="pl">32</text>
<text transform="translate(336.30,372.89) scale(0.870,1)" text-anchor="middle" class="pl">35</text>
<text transform="translate(554.60,371.59) scale(0.870,1)" text-anchor="middle" class="pl">36</text>
<text transform="translate(597.70,371.59) scale(0.870,1)" text-anchor="middle" class="pl">37</text>
<line x1="84.60" y1="371.20" x2="84.60" y2="389.10" class="ar"/><polygon points="84.60,393.00 82.20,388.60 87.00,388.60" class="ah"/>
<line x1="99.80" y1="364.60" x2="99.80" y2="383.10" class="ar"/><polygon points="99.80,387.00 97.40,382.60 102.20,382.60" class="ah"/>
<line x1="206.90" y1="364.90" x2="213.51" y2="379.74" class="ar"/><polygon points="215.10,383.30 211.12,380.26 215.50,378.30" class="ah"/>
<line x1="228.00" y1="364.90" x2="221.14" y2="379.76" class="ar"/><polygon points="219.50,383.30 219.17,378.30 223.52,380.31" class="ah"/>
<line x1="240.80" y1="373.60" x2="240.80" y2="392.40" class="ar"/><polygon points="240.80,396.30 238.40,391.90 243.20,391.90" class="ah"/>
<line x1="267.70" y1="373.60" x2="267.70" y2="391.90" class="ar"/><polygon points="267.70,395.80 265.30,391.40 270.10,391.40" class="ah"/>
<line x1="279.30" y1="357.60" x2="279.30" y2="391.90" class="ar"/><polygon points="279.30,395.80 276.90,391.40 281.70,391.40" class="ah"/>
<line x1="333.60" y1="375.10" x2="327.15" y2="392.64" class="ar"/><polygon points="325.80,396.30 325.07,391.34 329.57,393.00" class="ah"/>
<line x1="558.60" y1="374.50" x2="565.25" y2="389.82" class="ar"/><polygon points="566.80,393.40 562.85,390.32 567.25,388.41" class="ah"/>
<line x1="593.60" y1="376.60" x2="586.54" y2="391.86" class="ar"/><polygon points="584.90,395.40 584.57,390.40 588.93,392.41" class="ah"/>
<line x1="40.5" y1="435.00" x2="40.5" y2="563.00" class="ax"/>
<line x1="37.0" y1="556.50" x2="40.5" y2="556.50" class="tk"/>
<line x1="37.0" y1="550.50" x2="40.5" y2="550.50" class="tk"/>
<line x1="37.0" y1="543.50" x2="40.5" y2="543.50" class="tk"/>
<line x1="35.0" y1="537.50" x2="40.5" y2="537.50" class="tk"/>
<line x1="37.0" y1="531.50" x2="40.5" y2="531.50" class="tk"/>
<line x1="37.0" y1="524.50" x2="40.5" y2="524.50" class="tk"/>
<line x1="37.0" y1="518.50" x2="40.5" y2="518.50" class="tk"/>
<line x1="35.0" y1="512.50" x2="40.5" y2="512.50" class="tk"/>
<line x1="37.0" y1="505.50" x2="40.5" y2="505.50" class="tk"/>
<line x1="37.0" y1="499.50" x2="40.5" y2="499.50" class="tk"/>
<line x1="37.0" y1="492.50" x2="40.5" y2="492.50" class="tk"/>
<line x1="35.0" y1="486.50" x2="40.5" y2="486.50" class="tk"/>
<line x1="37.0" y1="480.50" x2="40.5" y2="480.50" class="tk"/>
<line x1="37.0" y1="473.50" x2="40.5" y2="473.50" class="tk"/>
<line x1="37.0" y1="467.50" x2="40.5" y2="467.50" class="tk"/>
<line x1="35.0" y1="461.50" x2="40.5" y2="461.50" class="tk"/>
<line x1="37.0" y1="454.50" x2="40.5" y2="454.50" class="tk"/>
<line x1="37.0" y1="448.50" x2="40.5" y2="448.50" class="tk"/>
<line x1="37.0" y1="442.50" x2="40.5" y2="442.50" class="tk"/>
<line x1="35.0" y1="435.50" x2="40.5" y2="435.50" class="tk"/>
<text transform="translate(32.6,540.95) scale(0.91,1)" text-anchor="end" class="yl">20</text>
<text transform="translate(32.6,515.95) scale(0.91,1)" text-anchor="end" class="yl">40</text>
<text transform="translate(32.6,489.95) scale(0.91,1)" text-anchor="end" class="yl">60</text>
<text transform="translate(32.6,464.95) scale(0.91,1)" text-anchor="end" class="yl">80</text>
<text transform="translate(32.6,438.95) scale(0.91,1)" text-anchor="end" class="yl">100</text>
<line x1="35.0" y1="562.50" x2="681.5" y2="562.50" class="ax"/>
<text transform="translate(7.6,500.30) rotate(-90)" text-anchor="middle" class="ra" textLength="65.8" lengthAdjust="spacingAndGlyphs">Relative Abundance</text>
<text x="430.90" y="460.20" class="ti" textLength="66.20" lengthAdjust="spacingAndGlyphs">Arabica (A8)</text>
<polyline class="tr" points="40.50,561.40 43.00,561.36 44.25,561.43 46.50,561.32 49.00,561.39 49.25,561.21 49.50,560.49 50.00,556.21 50.30,554.50 50.50,555.30 51.00,559.84 51.25,560.79 51.50,560.83 52.00,560.04 52.10,560.00 52.75,560.85 53.00,559.31 53.25,549.51 53.50,518.81 54.00,435.00 54.25,444.98 54.75,512.71 55.00,527.74 55.25,532.42 56.00,538.60 57.25,552.08 57.75,555.87 58.00,556.87 58.25,556.93 58.75,554.35 59.00,553.31 59.10,553.29 59.25,553.78 60.00,559.82 60.25,560.82 60.50,561.16 60.75,560.28 61.00,554.02 61.25,532.00 61.50,491.30 61.80,459.95 62.00,471.57 62.50,538.73 62.75,554.67 63.00,559.67 63.25,560.74 63.50,560.94 64.00,561.06 65.75,561.32 68.00,561.36 69.25,561.54 70.50,561.47 71.75,561.54 73.00,561.42 74.00,561.54 75.25,561.42 77.75,561.52 80.25,561.40 82.75,561.56 83.25,561.41 83.50,561.09 83.75,560.36 84.00,558.87 84.25,556.30 85.25,537.50 85.50,534.95 85.60,534.71 85.75,535.24 86.00,538.25 87.00,556.88 87.25,559.21 87.50,560.50 87.75,561.12 88.00,561.38 88.25,561.47 89.75,561.59 91.00,561.52 94.50,561.64 96.50,561.51 97.00,561.18 97.25,560.86 98.75,557.53 99.50,556.37 100.25,555.91 101.75,555.69 102.50,555.87 103.00,556.37 103.50,557.45 104.25,559.86 104.75,561.01 105.00,561.29 105.50,561.41 105.75,561.30 106.00,561.02 106.25,560.44 106.50,559.39 106.75,557.59 107.25,550.70 107.50,545.20 109.25,489.44 109.75,470.14 110.00,462.69 110.10,462.23 110.25,465.13 110.50,477.23 111.00,508.28 111.50,531.04 112.00,545.89 112.50,553.88 112.75,555.89 113.00,557.06 113.50,558.10 114.25,558.98 114.75,559.40 115.00,559.27 115.25,558.63 115.50,557.17 116.00,550.56 117.00,525.05 117.25,520.61 117.50,519.00 117.75,520.61 118.00,525.07 118.75,545.30 119.25,555.13 119.75,559.72 120.00,560.67 120.25,561.15 120.75,561.44 123.25,561.61 129.25,561.54 129.75,561.45 130.00,561.25 130.25,560.80 130.75,559.14 131.10,558.48 131.25,558.60 132.00,560.87 132.25,561.26 132.50,561.43 134.00,561.53 139.00,561.36 140.25,561.44 141.75,561.39 142.00,561.25 142.25,560.86 143.00,557.92 143.30,557.31 143.50,557.56 144.25,560.47 144.50,561.01 144.75,561.26 145.25,561.41 146.25,561.49 153.00,561.45 153.50,561.31 153.75,560.94 154.00,560.04 154.25,558.13 154.50,554.68 154.75,549.31 155.75,519.33 156.00,515.17 156.25,513.46 156.40,513.28 156.50,513.65 156.75,517.55 157.50,539.36 157.75,544.19 158.00,547.12 158.50,549.99 158.75,550.76 159.25,551.79 159.50,552.98 160.25,559.27 160.50,560.59 160.75,561.20 161.00,561.40 161.25,561.44 163.00,561.41 163.50,561.17 163.75,560.81 164.00,560.10 164.25,558.92 165.00,553.30 165.25,552.09 165.40,551.87 165.50,551.96 165.75,552.97 166.50,558.59 166.75,559.89 167.00,560.68 167.25,561.10 167.50,561.28 168.00,561.38 171.25,561.37 172.50,561.48 175.00,561.29 177.25,561.30 179.50,561.42 181.00,561.34 185.75,561.42 188.50,561.29 189.00,561.16 189.25,560.85 189.50,560.14 189.75,558.76 190.00,556.49 190.75,546.59 191.00,544.80 191.10,544.63 191.25,545.01 191.50,547.15 192.00,554.04 192.50,559.10 192.75,560.33 193.00,560.94 193.25,561.20 193.75,561.30 195.25,561.22 196.50,561.36 199.00,561.24 201.50,561.34 202.25,561.28 202.75,561.03 203.00,560.62 203.25,559.77 203.50,558.29 204.25,550.67 204.50,548.76 204.70,548.24 205.00,549.38 206.00,558.92 206.25,560.12 206.50,560.76 206.75,561.05 207.00,561.17 207.50,561.22 215.00,561.23 215.50,561.08 215.75,560.62 216.00,559.38 216.25,556.70 217.00,542.05 217.20,540.44 217.50,542.12 217.75,545.25 218.00,546.88 218.25,545.00 219.00,524.59 219.25,519.90 219.40,519.07 219.50,519.44 219.75,523.41 220.50,546.84 221.00,556.91 221.25,559.23 221.50,560.41 221.75,560.93 222.25,561.20 225.25,561.30 226.50,561.19 227.75,561.25 233.75,561.24 235.00,561.12 239.50,561.18 240.00,561.10 240.25,560.94 240.50,560.61 240.75,559.93 241.00,558.68 241.25,556.64 242.25,541.39 242.50,538.69 242.70,537.97 243.00,539.52 244.00,554.95 244.50,559.32 244.75,560.30 245.00,560.80 245.25,561.03 245.75,561.18 246.75,561.26 250.50,561.15 251.75,561.25 255.25,561.07 257.75,561.18 264.75,561.04 266.00,561.16 266.75,561.07 267.25,560.90 267.50,560.71 267.75,560.31 268.00,559.50 268.25,558.09 269.25,547.73 269.50,546.34 269.60,546.21 269.75,546.51 270.00,548.20 271.00,558.52 271.25,559.79 271.50,560.50 271.75,560.85 272.00,560.99 272.50,561.06 273.75,561.06 274.25,560.91 274.50,560.63 275.25,558.89 275.40,558.79 275.75,559.28 276.25,560.55 276.50,560.89 277.00,561.09 279.25,561.01 284.00,561.13 287.50,560.97 289.00,561.13 291.00,561.00 291.25,560.90 291.50,560.66 292.25,559.17 292.40,559.09 292.75,559.51 293.25,560.56 293.50,560.83 294.00,560.98 294.50,560.99 295.00,560.82 295.25,560.52 295.75,559.41 296.10,558.97 296.25,559.06 297.00,560.56 297.25,560.81 297.75,560.98 298.50,561.04 299.75,561.05 301.00,560.92 302.25,561.05 305.75,560.99 306.25,560.69 307.00,559.28 307.20,559.15 307.50,559.46 308.00,560.49 308.25,560.79 308.50,560.93 311.50,561.13 314.00,560.97 315.25,561.08 316.50,561.02 318.75,561.13 322.50,560.99 333.25,561.12 334.50,560.96 335.75,561.07 338.25,561.03 341.75,561.16 345.25,561.02 346.50,561.12 347.75,561.04 363.25,561.16 365.75,561.03 368.00,561.16 370.50,561.10 371.75,561.16 373.00,561.07 376.50,561.17 378.75,561.07 380.00,561.20 381.50,561.10 383.75,561.26 386.00,561.04 387.25,561.27 389.50,561.17 391.00,561.28 392.00,561.16 393.25,561.22 395.50,561.15 399.50,561.23 401.75,561.15 404.25,561.26 406.50,561.18 410.00,561.25 411.50,561.16 414.75,561.25 416.25,561.14 419.75,561.25 420.75,561.16 422.00,561.33 423.50,561.23 425.75,561.34 431.75,561.22 435.25,561.24 436.50,561.34 439.00,561.23 440.00,561.34 443.75,561.30 447.25,561.45 448.50,561.29 455.75,561.47 463.00,561.41 470.00,561.52 471.50,561.43 473.75,561.57 476.00,561.47 478.50,561.61 480.75,561.50 483.25,561.64 484.50,561.54 486.75,561.63 493.00,561.66 496.50,561.55 497.75,561.67 500.00,561.56 502.50,561.69 505.00,561.57 506.25,561.66 508.50,561.69 509.75,561.60 511.00,561.74 517.00,561.80 519.25,561.75 523.00,561.85 525.50,561.77 530.00,561.88 531.25,561.75 535.00,561.91 539.75,561.86 546.75,561.98 548.25,561.87 551.75,561.98 553.00,561.88 556.50,562.07 557.75,561.95 569.50,562.06 571.00,561.99 576.75,562.14 578.25,562.04 585.25,562.07 586.50,562.22 587.75,562.11 589.00,562.18 590.25,562.08 596.00,562.24 599.75,562.16 602.00,562.23 603.25,562.09 607.00,562.22 608.00,562.13 609.25,562.23 611.50,562.15 613.00,562.28 616.50,562.13 619.00,562.26 621.25,562.19 623.75,562.31 625.00,562.20 628.50,562.32 632.00,562.20 633.25,562.31 638.00,562.32 639.25,562.23 643.00,562.41 650.00,562.31 653.75,562.46 657.25,562.36 659.75,562.50 662.00,562.34 663.50,562.45 664.75,561.06 666.75,560.96 667.25,560.80 667.75,560.28 668.50,559.10 668.90,558.85 669.25,559.06 670.50,561.03 670.75,561.25 671.25,561.48 676.50,561.57 676.75,561.47 677.00,561.21 677.75,559.17 677.90,559.04 678.25,559.69 678.75,561.11 679.00,561.40 679.50,561.54 681.00,561.54"/>
<text transform="translate(58.50,442.29) scale(0.870,1)" text-anchor="middle" class="pl">2</text>
<text transform="translate(62.00,457.29) scale(0.870,1)" text-anchor="middle" class="pl">5</text>
<text transform="translate(72.60,522.29) scale(0.870,1)" text-anchor="middle" class="pl">3</text>
<text transform="translate(73.20,540.99) scale(0.870,1)" text-anchor="middle" class="pl">4</text>
<text transform="translate(86.10,533.19) scale(0.870,1)" text-anchor="middle" class="pl">6</text>
<text transform="translate(110.10,457.89) scale(0.870,1)" text-anchor="middle" class="pl">8</text>
<text transform="translate(118.40,516.99) scale(0.870,1)" text-anchor="middle" class="pl">10</text>
<text transform="translate(131.70,531.19) scale(0.870,1)" text-anchor="middle" class="pl">11</text>
<text transform="translate(144.30,529.99) scale(0.870,1)" text-anchor="middle" class="pl">12</text>
<text transform="translate(157.40,510.39) scale(0.870,1)" text-anchor="middle" class="pl">13</text>
<text transform="translate(166.10,549.69) scale(0.870,1)" text-anchor="middle" class="pl">14</text>
<text transform="translate(191.30,542.59) scale(0.870,1)" text-anchor="middle" class="pl">17</text>
<text transform="translate(205.00,546.59) scale(0.870,1)" text-anchor="middle" class="pl">19</text>
<text transform="translate(217.90,517.39) scale(0.870,1)" text-anchor="middle" class="pl">22</text>
<text transform="translate(243.00,536.99) scale(0.870,1)" text-anchor="middle" class="pl">24</text>
<text transform="translate(270.20,544.39) scale(0.870,1)" text-anchor="middle" class="pl">26</text>
<text transform="translate(275.70,513.29) scale(0.870,1)" text-anchor="middle" class="pl">27</text>
<text transform="translate(286.00,532.29) scale(0.870,1)" text-anchor="middle" class="pl">29</text>
<text transform="translate(297.00,541.99) scale(0.870,1)" text-anchor="middle" class="pl">30</text>
<text transform="translate(307.50,537.69) scale(0.870,1)" text-anchor="middle" class="pl">34</text>
<line x1="68.00" y1="520.90" x2="59.77" y2="529.66" class="ar"/><polygon points="57.10,532.50 58.36,527.65 61.86,530.94" class="ah"/>
<line x1="68.70" y1="541.00" x2="61.21" y2="549.91" class="ar"/><polygon points="58.70,552.90 59.69,547.99 63.37,551.08" class="ah"/>
<line x1="131.10" y1="534.70" x2="131.10" y2="553.40" class="ar"/><polygon points="131.10,557.30 128.70,552.90 133.50,552.90" class="ah"/>
<line x1="143.30" y1="533.50" x2="143.30" y2="552.30" class="ar"/><polygon points="143.30,556.20 140.90,551.80 145.70,551.80" class="ah"/>
<line x1="275.40" y1="515.50" x2="275.40" y2="554.60" class="ar"/><polygon points="275.40,558.50 273.00,554.10 277.80,554.10" class="ah"/>
<line x1="287.40" y1="534.50" x2="291.77" y2="554.69" class="ar"/><polygon points="292.60,558.50 289.32,554.71 294.01,553.69" class="ah"/>
<line x1="296.10" y1="544.50" x2="296.10" y2="554.60" class="ar"/><polygon points="296.10,558.50 293.70,554.10 298.50,554.10" class="ah"/>
<line x1="307.20" y1="540.00" x2="307.20" y2="554.60" class="ar"/><polygon points="307.20,558.50 304.80,554.10 309.60,554.10" class="ah"/>
<line x1="40.5" y1="568.00" x2="40.5" y2="696.00" class="ax"/>
<line x1="37.0" y1="689.50" x2="40.5" y2="689.50" class="tk"/>
<line x1="37.0" y1="682.50" x2="40.5" y2="682.50" class="tk"/>
<line x1="37.0" y1="676.50" x2="40.5" y2="676.50" class="tk"/>
<line x1="35.0" y1="670.50" x2="40.5" y2="670.50" class="tk"/>
<line x1="37.0" y1="663.50" x2="40.5" y2="663.50" class="tk"/>
<line x1="37.0" y1="657.50" x2="40.5" y2="657.50" class="tk"/>
<line x1="37.0" y1="651.50" x2="40.5" y2="651.50" class="tk"/>
<line x1="35.0" y1="644.50" x2="40.5" y2="644.50" class="tk"/>
<line x1="37.0" y1="638.50" x2="40.5" y2="638.50" class="tk"/>
<line x1="37.0" y1="632.50" x2="40.5" y2="632.50" class="tk"/>
<line x1="37.0" y1="625.50" x2="40.5" y2="625.50" class="tk"/>
<line x1="35.0" y1="619.50" x2="40.5" y2="619.50" class="tk"/>
<line x1="37.0" y1="613.50" x2="40.5" y2="613.50" class="tk"/>
<line x1="37.0" y1="606.50" x2="40.5" y2="606.50" class="tk"/>
<line x1="37.0" y1="600.50" x2="40.5" y2="600.50" class="tk"/>
<line x1="35.0" y1="593.50" x2="40.5" y2="593.50" class="tk"/>
<line x1="37.0" y1="587.50" x2="40.5" y2="587.50" class="tk"/>
<line x1="37.0" y1="581.50" x2="40.5" y2="581.50" class="tk"/>
<line x1="37.0" y1="574.50" x2="40.5" y2="574.50" class="tk"/>
<line x1="35.0" y1="568.50" x2="40.5" y2="568.50" class="tk"/>
<text transform="translate(32.6,673.95) scale(0.91,1)" text-anchor="end" class="yl">20</text>
<text transform="translate(32.6,647.95) scale(0.91,1)" text-anchor="end" class="yl">40</text>
<text transform="translate(32.6,622.95) scale(0.91,1)" text-anchor="end" class="yl">60</text>
<text transform="translate(32.6,596.95) scale(0.91,1)" text-anchor="end" class="yl">80</text>
<text transform="translate(32.6,571.95) scale(0.91,1)" text-anchor="end" class="yl">100</text>
<line x1="35.0" y1="695.50" x2="681.5" y2="695.50" class="ax"/>
<text transform="translate(7.6,633.05) rotate(-90)" text-anchor="middle" class="ra" textLength="65.8" lengthAdjust="spacingAndGlyphs">Relative Abundance</text>
<text x="430.90" y="591.40" class="ti" textLength="76.20" lengthAdjust="spacingAndGlyphs">Robusta (A40)</text>
<polyline class="tr" points="40.50,694.32 41.75,694.29 43.00,694.42 44.25,694.30 46.50,694.39 49.00,694.27 49.50,694.03 50.25,692.54 50.50,692.30 50.75,692.53 51.25,693.65 51.50,694.02 51.75,694.20 52.25,694.27 52.75,694.20 53.00,693.30 53.25,686.96 53.50,663.49 53.75,621.42 54.00,597.19 54.25,616.08 54.75,680.27 55.00,690.59 55.25,691.95 55.50,689.78 56.25,677.74 56.40,677.10 56.50,677.38 56.75,680.23 57.25,689.03 57.50,691.90 57.75,693.31 58.00,693.62 58.25,693.02 59.00,687.57 59.20,687.02 59.50,688.25 60.00,692.36 60.25,693.60 60.50,694.10 60.75,693.76 61.00,691.13 61.50,673.76 61.70,670.08 62.00,675.98 62.50,691.02 62.75,693.55 63.00,694.22 63.25,694.36 64.50,694.30 69.25,694.40 82.25,694.38 82.75,694.32 83.00,694.18 83.25,693.82 83.50,693.06 83.75,691.58 84.00,689.11 85.00,672.49 85.30,670.64 85.50,671.46 85.75,674.54 86.50,687.80 86.75,690.76 87.00,692.62 87.25,693.65 87.50,694.13 88.00,694.38 94.50,694.47 96.50,694.43 97.25,694.22 97.75,693.76 98.25,692.85 99.50,689.46 100.25,688.01 101.00,687.33 102.00,687.11 103.00,687.06 103.50,687.13 104.00,687.38 104.25,687.62 105.00,689.08 106.00,692.15 106.25,692.64 106.50,692.76 106.75,692.28 107.00,691.02 107.50,685.45 108.25,670.09 108.75,655.35 109.00,636.61 109.50,571.39 109.60,567.87 109.75,573.58 110.25,632.71 110.50,652.65 111.00,671.33 111.75,687.68 112.00,690.37 112.25,691.82 112.50,692.38 112.75,692.44 113.75,691.54 114.00,691.44 114.75,691.42 115.00,691.09 115.25,690.19 115.50,688.36 115.75,685.31 116.75,664.18 117.00,660.71 117.20,659.82 117.50,661.55 117.75,665.21 118.50,680.89 119.00,688.73 119.50,692.65 119.75,693.56 120.00,694.04 120.50,694.38 121.00,694.42 122.00,694.32 123.25,694.49 124.50,694.36 125.75,694.54 126.75,694.55 129.75,694.37 130.25,694.05 130.75,693.27 131.10,692.99 131.25,693.07 132.00,694.21 132.50,694.45 135.25,694.47 136.50,694.58 137.75,694.50 141.00,694.52 141.50,694.38 141.75,694.12 142.50,692.31 142.80,691.93 143.00,692.08 143.75,693.88 144.00,694.23 144.50,694.45 147.25,694.47 148.50,694.56 151.50,694.49 152.25,694.39 152.75,694.05 153.00,693.59 153.25,692.74 153.50,691.30 154.00,685.62 154.50,675.22 155.25,655.82 155.50,651.47 155.80,649.48 156.00,650.00 156.25,655.08 156.75,681.59 157.00,690.85 157.25,693.43 157.50,691.19 158.00,681.22 158.25,679.04 158.50,678.57 158.75,678.55 159.00,678.65 159.25,679.63 159.50,682.84 160.00,692.74 160.25,694.37 160.50,694.56 162.75,694.45 166.50,694.59 167.75,694.50 169.00,694.65 170.00,694.50 175.00,694.59 177.25,694.44 180.75,694.66 182.25,694.50 184.50,694.64 188.25,694.50 191.75,694.56 194.00,694.49 194.50,694.42 194.75,694.26 195.25,693.59 195.60,693.31 195.75,693.36 196.50,694.32 197.00,694.54 203.75,694.72 210.75,694.72 213.25,694.59 214.50,694.72 215.25,694.64 215.50,694.43 215.75,693.68 216.00,691.45 216.25,686.15 217.00,649.15 217.30,641.48 217.50,644.20 218.25,673.33 218.50,674.61 218.75,668.57 219.50,621.25 219.70,616.98 220.00,628.06 220.75,682.28 221.00,690.03 221.25,693.29 221.50,694.37 221.75,694.65 222.00,694.70 227.75,694.85 230.00,694.69 238.50,694.81 240.25,694.78 240.50,694.66 240.75,693.88 241.00,690.81 241.75,664.93 241.80,664.50 242.00,666.05 242.25,668.95 242.50,661.59 242.75,644.90 243.00,635.95 243.25,646.61 243.75,684.71 244.00,692.24 244.25,694.39 244.50,694.80 244.75,694.83 247.00,694.86 247.25,694.73 247.50,694.36 247.75,693.48 248.50,687.42 248.80,686.22 249.00,686.78 249.75,692.92 250.00,694.06 250.25,694.59 250.50,694.78 251.75,694.83 252.00,694.72 252.25,694.40 252.50,693.66 253.00,691.35 253.20,691.03 253.50,691.82 254.00,694.14 254.25,694.67 254.50,694.84 256.50,694.93 257.75,694.86 263.75,694.94 266.25,694.87 270.75,695.00 272.50,694.93 273.00,694.69 273.25,694.34 273.50,693.66 274.00,690.35 275.00,676.14 275.25,673.99 275.40,673.61 275.50,673.78 275.75,675.55 276.50,686.67 277.00,692.08 277.25,693.52 277.50,694.32 277.75,694.73 278.00,694.92 278.50,695.02 284.00,694.94 287.75,695.08 290.00,695.03 291.25,695.15 291.75,694.95 292.00,694.65 292.50,693.44 292.75,692.94 292.90,692.84 293.25,693.31 293.75,694.49 294.00,694.82 294.25,694.96 296.00,695.09 296.50,694.93 296.75,694.58 297.00,693.75 297.25,692.07 298.25,677.34 298.50,675.98 298.75,677.33 299.75,692.04 300.00,693.74 300.25,694.59 300.50,694.96 301.00,695.15 303.25,695.04 303.75,694.91 304.00,694.66 304.75,693.08 304.90,692.98 305.25,693.43 305.75,694.57 306.00,694.88 306.50,695.07 308.00,695.16 309.25,695.08 314.25,695.14 317.75,695.06 320.00,695.14 323.75,695.02 325.00,695.14 326.25,695.03 330.75,695.10 335.75,695.01 345.25,695.16 347.75,695.09 349.00,695.16 350.25,695.06 352.50,695.14 356.25,695.06 360.75,695.16 367.00,695.04 369.25,695.17 370.50,695.04 374.00,695.14 377.75,695.00 380.00,695.15 381.25,695.03 382.50,695.16 385.00,695.09 386.00,694.97 387.25,695.15 391.00,695.04 393.25,695.15 394.50,695.07 395.75,695.14 399.25,695.08 401.75,695.23 405.25,695.08 407.75,695.16 409.00,695.02 410.00,695.03 411.25,695.20 418.50,695.09 419.75,695.20 422.00,695.06 428.00,695.11 429.25,694.94 431.75,695.15 438.75,695.08 440.00,695.18 441.25,695.09 446.25,695.05 448.50,695.16 449.75,695.05 454.50,695.10 455.75,695.02 456.75,695.11 457.00,695.00 457.25,694.57 457.50,693.54 458.00,690.29 458.20,689.80 458.50,690.87 459.00,694.05 459.25,694.81 459.50,695.06 459.75,695.11 460.50,695.05 462.75,695.21 465.25,695.07 474.75,695.06 477.25,695.09 478.50,695.23 479.75,695.09 481.00,695.06 483.25,695.12 485.75,695.04 487.00,695.17 488.00,695.03 488.25,694.94 488.50,694.64 488.75,693.79 489.25,690.63 489.50,689.86 489.75,690.61 490.25,693.80 490.50,694.66 490.75,694.98 491.00,695.06 493.00,695.18 495.25,695.05 501.25,695.19 506.00,695.03 508.50,695.18 509.75,695.02 511.00,695.16 513.25,695.06 515.75,695.18 517.00,695.08 519.25,695.16 520.50,695.06 525.25,695.13 534.75,695.03 537.25,695.13 538.50,695.06 539.75,695.17 543.25,695.04 544.50,695.20 545.75,695.03 548.00,695.18 550.50,695.07 554.00,695.17 556.50,695.05 558.75,695.10 560.25,695.04 562.50,695.21 563.75,695.05 565.00,695.15 566.00,695.06 569.75,695.03 572.25,695.16 575.75,695.06 580.50,695.17 581.75,695.06 583.00,695.18 586.50,695.04 594.75,695.13 596.00,695.06 597.25,695.14 601.00,695.02 604.50,695.15 605.75,695.05 607.00,695.16 608.00,695.06 609.25,695.16 611.75,695.07 613.00,695.19 614.25,695.05 620.25,695.14 623.75,695.05 626.00,695.14 629.75,695.00 632.00,695.02 633.25,695.16 634.50,695.01 636.75,695.13 640.50,695.15 646.50,695.01 648.75,695.16 651.25,695.04 653.75,695.16 656.00,695.04 659.75,695.11 661.00,694.99 662.00,695.08 662.75,694.96 664.00,694.55 666.00,693.50 666.75,693.35 667.50,693.55 669.75,694.67 671.50,695.07 674.75,695.03 675.00,694.91 675.75,694.07 675.90,694.01 676.25,694.23 676.75,694.82 677.25,695.06 680.00,695.15"/>
<text transform="translate(53.50,593.99) scale(0.870,1)" text-anchor="middle" class="pl">2</text>
<text transform="translate(65.20,640.99) scale(0.870,1)" text-anchor="middle" class="pl">3</text>
<text transform="translate(77.80,653.99) scale(0.870,1)" text-anchor="middle" class="pl">5</text>
<text transform="translate(73.20,675.19) scale(0.870,1)" text-anchor="middle" class="pl">4</text>
<text transform="translate(85.00,667.99) scale(0.870,1)" text-anchor="middle" class="pl">6</text>
<text transform="translate(115.00,576.99) scale(0.870,1)" text-anchor="middle" class="pl">8</text>
<text transform="translate(118.40,657.59) scale(0.870,1)" text-anchor="middle" class="pl">10</text>
<text transform="translate(132.10,666.49) scale(0.870,1)" text-anchor="middle" class="pl">11</text>
<text transform="translate(144.20,665.19) scale(0.870,1)" text-anchor="middle" class="pl">12</text>
<text transform="translate(156.20,647.79) scale(0.870,1)" text-anchor="middle" class="pl">13</text>
<text transform="translate(196.80,669.99) scale(0.870,1)" text-anchor="middle" class="pl">18</text>
<text transform="translate(217.90,614.19) scale(0.870,1)" text-anchor="middle" class="pl">22</text>
<text transform="translate(243.10,633.19) scale(0.870,1)" text-anchor="middle" class="pl">24</text>
<text transform="translate(250.60,683.69) scale(0.870,1)" text-anchor="middle" class="pl">25</text>
<text transform="translate(276.20,671.99) scale(0.870,1)" text-anchor="middle" class="pl">27</text>
<text transform="translate(293.80,657.99) scale(0.870,1)" text-anchor="middle" class="pl">29</text>
<text transform="translate(299.20,673.79) scale(0.870,1)" text-anchor="middle" class="pl">31</text>
<text transform="translate(311.90,679.29) scale(0.870,1)" text-anchor="middle" class="pl">33</text>
<line x1="63.80" y1="644.40" x2="57.32" y2="671.01" class="ar"/><polygon points="56.40,674.80 55.11,669.96 59.77,671.09" class="ah"/>
<line x1="74.60" y1="655.00" x2="65.97" y2="664.86" class="ar"/><polygon points="63.40,667.80 64.49,662.91 68.10,666.07" class="ah"/>
<line x1="69.70" y1="676.00" x2="62.49" y2="684.09" class="ar"/><polygon points="59.90,687.00 61.03,682.12 64.62,685.31" class="ah"/>
<line x1="131.10" y1="670.10" x2="131.10" y2="688.40" class="ar"/><polygon points="131.10,692.30 128.70,687.90 133.50,687.90" class="ah"/>
<line x1="142.80" y1="669.00" x2="142.80" y2="686.80" class="ar"/><polygon points="142.80,690.70 140.40,686.30 145.20,686.30" class="ah"/>
<line x1="195.70" y1="672.20" x2="195.70" y2="689.60" class="ar"/><polygon points="195.70,693.50 193.30,689.10 198.10,689.10" class="ah"/>
<line x1="292.90" y1="659.90" x2="292.90" y2="688.10" class="ar"/><polygon points="292.90,692.00 290.50,687.60 295.30,687.60" class="ah"/>
<line x1="309.60" y1="680.30" x2="306.35" y2="688.38" class="ar"/><polygon points="304.90,692.00 304.31,687.02 308.77,688.81" class="ah"/>
<line x1="40.5" y1="702.00" x2="40.5" y2="834.30" class="ax"/>
<line x1="35.0" y1="828.50" x2="40.5" y2="828.50" class="tk"/>
<line x1="37.0" y1="822.50" x2="40.5" y2="822.50" class="tk"/>
<line x1="37.0" y1="815.50" x2="40.5" y2="815.50" class="tk"/>
<line x1="37.0" y1="809.50" x2="40.5" y2="809.50" class="tk"/>
<line x1="35.0" y1="803.50" x2="40.5" y2="803.50" class="tk"/>
<line x1="37.0" y1="797.50" x2="40.5" y2="797.50" class="tk"/>
<line x1="37.0" y1="790.50" x2="40.5" y2="790.50" class="tk"/>
<line x1="37.0" y1="784.50" x2="40.5" y2="784.50" class="tk"/>
<line x1="35.0" y1="778.50" x2="40.5" y2="778.50" class="tk"/>
<line x1="37.0" y1="771.50" x2="40.5" y2="771.50" class="tk"/>
<line x1="37.0" y1="765.50" x2="40.5" y2="765.50" class="tk"/>
<line x1="37.0" y1="759.50" x2="40.5" y2="759.50" class="tk"/>
<line x1="35.0" y1="752.50" x2="40.5" y2="752.50" class="tk"/>
<line x1="37.0" y1="746.50" x2="40.5" y2="746.50" class="tk"/>
<line x1="37.0" y1="740.50" x2="40.5" y2="740.50" class="tk"/>
<line x1="37.0" y1="733.50" x2="40.5" y2="733.50" class="tk"/>
<line x1="35.0" y1="727.50" x2="40.5" y2="727.50" class="tk"/>
<line x1="37.0" y1="721.50" x2="40.5" y2="721.50" class="tk"/>
<line x1="37.0" y1="714.50" x2="40.5" y2="714.50" class="tk"/>
<line x1="37.0" y1="708.50" x2="40.5" y2="708.50" class="tk"/>
<line x1="35.0" y1="702.50" x2="40.5" y2="702.50" class="tk"/>
<text transform="translate(32.6,806.95) scale(0.91,1)" text-anchor="end" class="yl">20</text>
<text transform="translate(32.6,781.95) scale(0.91,1)" text-anchor="end" class="yl">40</text>
<text transform="translate(32.6,755.95) scale(0.91,1)" text-anchor="end" class="yl">60</text>
<text transform="translate(32.6,730.95) scale(0.91,1)" text-anchor="end" class="yl">80</text>
<text transform="translate(32.6,705.95) scale(0.91,1)" text-anchor="end" class="yl">100</text>
<text transform="translate(32.6,832.50) scale(0.91,1)" text-anchor="end" class="yl">0</text>
<line x1="35.0" y1="829.50" x2="681.5" y2="829.50" class="ax"/>
<line x1="40.50" y1="829.50" x2="40.50" y2="834.30" class="tk"/>
<text transform="translate(38.90,841.50) scale(0.91,1)" text-anchor="middle" class="yl">0</text>
<line x1="48.50" y1="829.50" x2="48.50" y2="832.80" class="tk"/>
<line x1="57.50" y1="829.50" x2="57.50" y2="832.80" class="tk"/>
<line x1="65.50" y1="829.50" x2="65.50" y2="832.80" class="tk"/>
<line x1="74.50" y1="829.50" x2="74.50" y2="832.80" class="tk"/>
<line x1="82.50" y1="829.50" x2="82.50" y2="834.30" class="tk"/>
<text transform="translate(80.90,841.50) scale(0.91,1)" text-anchor="middle" class="yl">5</text>
<line x1="91.50" y1="829.50" x2="91.50" y2="832.80" class="tk"/>
<line x1="99.50" y1="829.50" x2="99.50" y2="832.80" class="tk"/>
<line x1="108.50" y1="829.50" x2="108.50" y2="832.80" class="tk"/>
<line x1="116.50" y1="829.50" x2="116.50" y2="832.80" class="tk"/>
<line x1="125.50" y1="829.50" x2="125.50" y2="834.30" class="tk"/>
<text transform="translate(123.90,841.50) scale(0.91,1)" text-anchor="middle" class="yl">10</text>
<line x1="134.50" y1="829.50" x2="134.50" y2="832.80" class="tk"/>
<line x1="142.50" y1="829.50" x2="142.50" y2="832.80" class="tk"/>
<line x1="151.50" y1="829.50" x2="151.50" y2="832.80" class="tk"/>
<line x1="159.50" y1="829.50" x2="159.50" y2="832.80" class="tk"/>
<line x1="168.50" y1="829.50" x2="168.50" y2="834.30" class="tk"/>
<text transform="translate(166.90,841.50) scale(0.91,1)" text-anchor="middle" class="yl">15</text>
<line x1="176.50" y1="829.50" x2="176.50" y2="832.80" class="tk"/>
<line x1="185.50" y1="829.50" x2="185.50" y2="832.80" class="tk"/>
<line x1="193.50" y1="829.50" x2="193.50" y2="832.80" class="tk"/>
<line x1="202.50" y1="829.50" x2="202.50" y2="832.80" class="tk"/>
<line x1="211.50" y1="829.50" x2="211.50" y2="834.30" class="tk"/>
<text transform="translate(209.90,841.50) scale(0.91,1)" text-anchor="middle" class="yl">20</text>
<line x1="219.50" y1="829.50" x2="219.50" y2="832.80" class="tk"/>
<line x1="228.50" y1="829.50" x2="228.50" y2="832.80" class="tk"/>
<line x1="236.50" y1="829.50" x2="236.50" y2="832.80" class="tk"/>
<line x1="245.50" y1="829.50" x2="245.50" y2="832.80" class="tk"/>
<line x1="253.50" y1="829.50" x2="253.50" y2="834.30" class="tk"/>
<text transform="translate(251.90,841.50) scale(0.91,1)" text-anchor="middle" class="yl">25</text>
<line x1="262.50" y1="829.50" x2="262.50" y2="832.80" class="tk"/>
<line x1="270.50" y1="829.50" x2="270.50" y2="832.80" class="tk"/>
<line x1="279.50" y1="829.50" x2="279.50" y2="832.80" class="tk"/>
<line x1="287.50" y1="829.50" x2="287.50" y2="832.80" class="tk"/>
<line x1="296.50" y1="829.50" x2="296.50" y2="834.30" class="tk"/>
<text transform="translate(294.90,841.50) scale(0.91,1)" text-anchor="middle" class="yl">30</text>
<line x1="305.50" y1="829.50" x2="305.50" y2="832.80" class="tk"/>
<line x1="313.50" y1="829.50" x2="313.50" y2="832.80" class="tk"/>
<line x1="322.50" y1="829.50" x2="322.50" y2="832.80" class="tk"/>
<line x1="330.50" y1="829.50" x2="330.50" y2="832.80" class="tk"/>
<line x1="339.50" y1="829.50" x2="339.50" y2="834.30" class="tk"/>
<text transform="translate(337.90,841.50) scale(0.91,1)" text-anchor="middle" class="yl">35</text>
<line x1="347.50" y1="829.50" x2="347.50" y2="832.80" class="tk"/>
<line x1="356.50" y1="829.50" x2="356.50" y2="832.80" class="tk"/>
<line x1="364.50" y1="829.50" x2="364.50" y2="832.80" class="tk"/>
<line x1="373.50" y1="829.50" x2="373.50" y2="832.80" class="tk"/>
<line x1="382.50" y1="829.50" x2="382.50" y2="834.30" class="tk"/>
<text transform="translate(380.90,841.50) scale(0.91,1)" text-anchor="middle" class="yl">40</text>
<line x1="390.50" y1="829.50" x2="390.50" y2="832.80" class="tk"/>
<line x1="399.50" y1="829.50" x2="399.50" y2="832.80" class="tk"/>
<line x1="407.50" y1="829.50" x2="407.50" y2="832.80" class="tk"/>
<line x1="416.50" y1="829.50" x2="416.50" y2="832.80" class="tk"/>
<line x1="424.50" y1="829.50" x2="424.50" y2="834.30" class="tk"/>
<text transform="translate(422.90,841.50) scale(0.91,1)" text-anchor="middle" class="yl">45</text>
<line x1="433.50" y1="829.50" x2="433.50" y2="832.80" class="tk"/>
<line x1="441.50" y1="829.50" x2="441.50" y2="832.80" class="tk"/>
<line x1="450.50" y1="829.50" x2="450.50" y2="832.80" class="tk"/>
<line x1="458.50" y1="829.50" x2="458.50" y2="832.80" class="tk"/>
<line x1="467.50" y1="829.50" x2="467.50" y2="834.30" class="tk"/>
<text transform="translate(465.90,841.50) scale(0.91,1)" text-anchor="middle" class="yl">50</text>
<line x1="476.50" y1="829.50" x2="476.50" y2="832.80" class="tk"/>
<line x1="484.50" y1="829.50" x2="484.50" y2="832.80" class="tk"/>
<line x1="493.50" y1="829.50" x2="493.50" y2="832.80" class="tk"/>
<line x1="501.50" y1="829.50" x2="501.50" y2="832.80" class="tk"/>
<line x1="510.50" y1="829.50" x2="510.50" y2="834.30" class="tk"/>
<text transform="translate(508.90,841.50) scale(0.91,1)" text-anchor="middle" class="yl">55</text>
<line x1="518.50" y1="829.50" x2="518.50" y2="832.80" class="tk"/>
<line x1="527.50" y1="829.50" x2="527.50" y2="832.80" class="tk"/>
<line x1="535.50" y1="829.50" x2="535.50" y2="832.80" class="tk"/>
<line x1="544.50" y1="829.50" x2="544.50" y2="832.80" class="tk"/>
<line x1="553.50" y1="829.50" x2="553.50" y2="834.30" class="tk"/>
<text transform="translate(551.90,841.50) scale(0.91,1)" text-anchor="middle" class="yl">60</text>
<line x1="561.50" y1="829.50" x2="561.50" y2="832.80" class="tk"/>
<line x1="570.50" y1="829.50" x2="570.50" y2="832.80" class="tk"/>
<line x1="578.50" y1="829.50" x2="578.50" y2="832.80" class="tk"/>
<line x1="587.50" y1="829.50" x2="587.50" y2="832.80" class="tk"/>
<line x1="595.50" y1="829.50" x2="595.50" y2="834.30" class="tk"/>
<text transform="translate(593.90,841.50) scale(0.91,1)" text-anchor="middle" class="yl">65</text>
<line x1="604.50" y1="829.50" x2="604.50" y2="832.80" class="tk"/>
<line x1="612.50" y1="829.50" x2="612.50" y2="832.80" class="tk"/>
<line x1="621.50" y1="829.50" x2="621.50" y2="832.80" class="tk"/>
<line x1="629.50" y1="829.50" x2="629.50" y2="832.80" class="tk"/>
<line x1="638.50" y1="829.50" x2="638.50" y2="834.30" class="tk"/>
<text transform="translate(636.90,841.50) scale(0.91,1)" text-anchor="middle" class="yl">70</text>
<line x1="647.50" y1="829.50" x2="647.50" y2="832.80" class="tk"/>
<line x1="655.50" y1="829.50" x2="655.50" y2="832.80" class="tk"/>
<line x1="664.50" y1="829.50" x2="664.50" y2="832.80" class="tk"/>
<line x1="672.50" y1="829.50" x2="672.50" y2="832.80" class="tk"/>
<line x1="681.50" y1="829.50" x2="681.50" y2="834.30" class="tk"/>
<text transform="translate(679.90,841.50) scale(0.91,1)" text-anchor="middle" class="yl">75</text>
<text x="358.9" y="850.60" text-anchor="middle" class="tm">Time (min)</text>
<text transform="translate(7.6,766.40) rotate(-90)" text-anchor="middle" class="ra" textLength="65.8" lengthAdjust="spacingAndGlyphs">Relative Abundance</text>
<text x="430.20" y="728.10" class="ti" textLength="96.70" lengthAdjust="spacingAndGlyphs">Stenophylla (A57)</text>
<polyline class="tr" points="40.50,826.28 41.50,825.83 43.00,827.31 45.25,827.18 46.50,827.35 47.75,827.35 49.00,827.20 49.25,827.08 49.50,826.52 49.75,825.04 50.25,819.48 50.50,818.15 50.75,819.44 51.25,824.99 51.50,826.53 51.75,827.14 52.00,827.33 52.50,827.42 52.75,827.20 53.00,825.26 53.25,814.65 53.75,729.47 54.00,701.02 54.25,723.37 54.75,804.64 55.00,819.31 55.25,821.07 55.75,815.57 55.90,815.05 56.00,815.30 56.75,823.87 57.00,824.48 57.25,822.80 57.75,815.91 58.00,814.41 58.25,815.92 59.00,825.56 59.25,826.74 59.50,827.16 59.75,827.23 60.00,826.80 60.25,823.65 60.50,811.26 61.00,760.33 61.10,757.50 61.25,762.08 61.75,805.78 62.00,816.10 63.00,825.71 63.25,826.89 63.50,827.25 63.75,827.32 65.75,827.38 67.00,827.24 69.25,827.34 70.50,827.24 71.75,827.38 73.75,827.29 75.50,827.06 77.50,826.07 78.00,825.97 78.75,826.11 80.25,826.83 81.25,827.14 82.25,827.24 82.50,827.18 82.75,826.97 83.00,826.46 83.25,825.33 83.50,823.13 83.75,819.34 84.75,791.65 85.00,787.91 85.10,787.56 85.25,788.35 85.50,792.83 86.50,820.34 86.75,823.77 87.00,825.70 87.25,826.66 87.50,827.08 87.75,827.26 88.25,827.35 90.75,827.26 92.25,827.34 94.00,827.18 95.50,823.45 96.00,822.69 96.50,821.53 98.00,817.01 98.50,816.03 98.90,815.76 99.25,815.86 99.50,816.07 100.00,816.79 101.75,820.68 102.75,822.42 103.25,822.98 103.75,823.25 104.00,823.22 104.25,823.04 104.50,822.67 105.00,821.12 105.25,819.78 105.75,815.62 106.50,805.58 107.00,795.76 108.25,764.59 108.50,754.96 109.00,714.24 109.20,706.98 109.50,723.09 110.00,765.90 110.25,777.92 110.75,793.31 111.25,805.23 111.50,809.88 112.00,816.44 112.50,820.12 112.80,821.48 113.25,822.80 113.50,823.14 113.75,823.03 114.00,822.17 114.25,820.22 114.75,811.60 115.75,779.60 116.00,773.74 116.30,771.03 116.50,772.26 116.75,776.96 117.75,809.43 118.25,820.04 118.75,824.83 119.00,825.86 119.25,826.41 119.75,826.81 122.00,826.78 124.50,826.94 128.00,827.00 133.00,826.87 137.75,827.01 139.00,826.88 140.25,827.01 144.75,826.96 146.00,827.02 146.50,826.76 146.75,826.33 147.00,825.50 147.75,821.49 148.00,821.00 148.25,821.51 149.00,825.53 149.25,826.33 149.50,826.74 150.00,826.98 150.75,827.00 151.25,826.94 151.75,826.65 152.00,826.26 152.25,825.56 152.50,824.35 153.00,819.55 153.50,810.39 154.50,785.61 154.75,781.92 155.00,780.62 155.25,781.91 155.50,785.59 156.50,810.38 157.00,819.57 157.25,822.45 157.75,825.59 158.00,826.30 158.25,826.69 158.50,826.89 159.00,827.04 171.25,827.09 173.75,827.22 175.75,827.08 176.00,826.95 176.25,826.63 176.50,825.94 177.00,823.61 177.30,822.93 177.50,823.25 178.25,826.47 178.50,826.92 178.75,827.13 179.50,827.28 181.00,827.18 188.00,827.20 188.50,826.96 189.25,825.50 189.50,825.27 189.75,825.51 190.50,826.97 191.00,827.19 201.25,827.28 201.75,827.06 202.00,826.68 202.75,824.33 203.00,824.00 203.25,824.32 204.00,826.65 204.25,827.04 204.50,827.21 206.00,827.32 207.25,827.22 208.50,827.29 208.75,827.14 209.00,826.75 209.75,823.65 210.00,823.14 210.25,823.58 211.00,826.58 211.25,827.00 211.50,827.18 212.00,827.31 213.00,827.19 213.25,827.00 213.50,826.49 213.75,825.22 214.00,822.53 214.25,817.75 215.00,795.58 215.30,791.98 215.50,793.57 216.25,813.73 216.50,817.55 216.75,817.85 217.25,811.95 217.50,809.71 217.60,809.52 217.75,810.10 218.00,813.12 218.75,824.47 219.00,826.11 219.25,826.86 219.50,827.14 220.00,827.25 223.00,827.37 235.75,827.26 236.00,827.15 236.25,826.73 236.50,825.72 237.00,822.50 237.20,822.00 237.50,823.05 238.00,826.05 238.25,826.41 238.50,825.65 238.75,823.47 239.00,819.38 239.75,798.51 240.00,794.40 240.10,794.00 240.25,794.87 240.50,799.73 241.25,820.32 241.50,824.01 241.75,825.96 242.00,826.83 242.25,827.15 242.75,827.28 245.50,827.35 246.00,827.29 246.25,827.11 246.50,826.68 247.25,824.15 247.40,824.00 247.50,824.07 247.75,824.71 248.25,826.50 248.50,826.99 248.75,827.20 249.00,827.26 253.00,827.23 254.00,827.32 257.75,827.35 261.25,827.24 263.50,827.34 265.00,827.21 265.50,827.04 265.75,826.72 266.00,826.00 266.25,824.64 266.50,822.34 267.50,806.85 267.80,805.13 268.00,805.90 268.25,808.77 269.00,821.17 269.25,823.94 269.50,825.68 269.75,826.64 270.00,827.08 270.50,827.32 272.00,827.34 276.75,827.17 277.50,827.24 278.00,827.09 278.25,826.69 278.50,825.81 278.75,824.25 279.50,817.08 279.80,815.91 280.00,816.43 280.25,818.32 281.00,825.23 281.25,826.38 281.50,826.97 281.75,827.22 283.00,827.24 284.00,827.37 286.50,827.38 288.00,827.20 288.25,827.07 288.50,826.67 288.75,825.78 289.50,820.81 289.70,820.35 290.00,821.32 290.75,826.20 291.00,826.90 291.25,827.19 291.50,827.27 295.25,827.25 295.50,827.10 295.75,826.68 296.00,825.61 296.25,823.27 296.75,812.58 297.25,797.39 297.50,793.14 297.60,792.74 297.75,793.64 298.00,798.69 298.50,814.02 299.00,823.87 299.25,825.89 299.50,826.79 299.75,827.13 300.50,827.33 303.25,827.38 305.75,827.18 306.00,827.05 306.25,826.70 307.00,824.21 307.20,823.96 307.50,824.50 308.00,826.33 308.25,826.88 308.50,827.14 308.75,827.24 310.50,827.37 312.75,827.28 316.50,827.35 317.75,827.25 321.25,827.33 322.00,827.27 322.25,827.14 322.50,826.81 322.75,826.09 323.50,821.18 323.75,819.89 323.90,819.68 324.00,819.79 324.25,820.91 324.75,824.59 325.00,825.97 325.25,826.75 325.50,827.12 325.75,827.24 326.50,827.28 335.00,827.26 335.50,826.92 336.25,825.54 336.40,825.46 336.75,825.85 337.25,826.86 337.75,827.28 338.25,827.34 341.75,827.33 343.00,827.42 345.25,827.22 349.00,827.39 352.50,827.38 353.75,827.25 358.50,827.37 362.25,827.28 369.25,827.35 371.75,827.27 373.00,827.38 374.25,827.30 379.00,827.29 381.25,827.38 383.75,827.22 385.00,827.36 392.00,827.22 401.75,827.37 404.00,827.34 405.25,827.22 407.75,827.31 412.50,827.26 418.50,827.35 424.50,827.28 425.75,827.39 430.50,827.23 434.00,827.25 435.25,827.34 437.75,827.28 439.00,827.37 441.25,827.28 442.50,827.44 446.00,827.28 448.50,827.36 449.75,827.19 451.00,827.30 453.25,827.33 454.50,827.24 457.00,827.39 459.25,827.26 463.00,827.33 464.00,827.17 465.25,827.34 471.25,827.25 475.00,827.40 477.25,827.20 478.50,827.32 481.00,827.36 489.25,827.26 491.50,827.36 494.00,827.26 498.75,827.31 500.25,827.23 507.25,827.34 509.75,827.21 512.25,827.32 518.00,827.23 522.75,827.36 524.25,827.25 527.75,827.35 529.00,827.25 532.50,827.33 533.75,827.26 536.00,827.40 538.50,827.27 539.75,827.40 541.00,827.24 543.25,827.35 544.50,827.22 546.75,827.37 549.25,827.19 551.75,827.39 552.75,827.26 554.00,827.34 555.25,827.24 560.00,827.32 568.50,827.26 571.00,827.40 574.50,827.25 577.00,827.36 581.75,827.27 583.00,827.35 587.75,827.30 589.00,827.21 590.25,827.30 597.25,827.23 600.75,827.34 602.25,827.26 608.25,827.37 610.50,827.23 611.75,827.32 615.25,827.25 616.50,827.34 621.50,827.22 627.25,827.34 628.50,827.25 631.00,827.33 634.50,827.23 635.75,827.38 638.00,827.22 639.50,827.31 644.00,827.24 645.25,827.35 647.75,827.20 649.00,827.27 650.00,827.17 651.25,827.29 656.00,827.29 657.25,827.41 659.00,827.23 659.75,826.95 660.50,826.21 661.50,824.76 661.75,824.49 662.20,824.28 662.50,824.37 662.75,824.57 664.25,826.64 664.75,827.04 665.25,827.22 666.75,827.37 668.25,827.27 673.00,827.28"/>
<text transform="translate(58.70,712.99) scale(0.870,1)" text-anchor="middle" class="pl">2</text>
<text transform="translate(76.60,742.99) scale(0.870,1)" text-anchor="middle" class="pl">5</text>
<text transform="translate(70.40,794.99) scale(0.870,1)" text-anchor="middle" class="pl">3</text>
<text transform="translate(74.00,806.29) scale(0.870,1)" text-anchor="middle" class="pl">4</text>
<text transform="translate(85.10,785.69) scale(0.870,1)" text-anchor="middle" class="pl">6</text>
<text transform="translate(114.20,714.39) scale(0.870,1)" text-anchor="middle" class="pl">8</text>
<text transform="translate(117.30,769.39) scale(0.870,1)" text-anchor="middle" class="pl">10</text>
<text transform="translate(147.30,819.99) scale(0.870,1)" text-anchor="middle" class="pl">12</text>
<text transform="translate(155.20,779.29) scale(0.870,1)" text-anchor="middle" class="pl">13</text>
<text transform="translate(178.20,821.79) scale(0.870,1)" text-anchor="middle" class="pl">15</text>
<text transform="translate(190.00,799.99) scale(0.870,1)" text-anchor="middle" class="pl">17</text>
<text transform="translate(204.00,799.29) scale(0.870,1)" text-anchor="middle" class="pl">20</text>
<text transform="translate(212.00,764.99) scale(0.870,1)" text-anchor="middle" class="pl">21</text>
<text transform="translate(217.90,790.59) scale(0.870,1)" text-anchor="middle" class="pl">22</text>
<text transform="translate(240.70,792.19) scale(0.870,1)" text-anchor="middle" class="pl">24</text>
<text transform="translate(248.30,808.59) scale(0.870,1)" text-anchor="middle" class="pl">25</text>
<text transform="translate(268.10,803.39) scale(0.870,1)" text-anchor="middle" class="pl">26</text>
<text transform="translate(275.40,792.69) scale(0.870,1)" text-anchor="middle" class="pl">27</text>
<text transform="translate(280.70,814.99) scale(0.870,1)" text-anchor="middle" class="pl">28</text>
<text transform="translate(278.30,771.99) scale(0.870,1)" text-anchor="middle" class="pl">29</text>
<text transform="translate(292.20,801.59) scale(0.870,1)" text-anchor="middle" class="pl">30</text>
<text transform="translate(307.60,777.19) scale(0.870,1)" text-anchor="middle" class="pl">32</text>
<text transform="translate(308.40,804.09) scale(0.870,1)" text-anchor="middle" class="pl">34</text>
<text transform="translate(324.50,818.79) scale(0.870,1)" text-anchor="middle" class="pl">35</text>
<line x1="71.50" y1="744.30" x2="63.73" y2="753.43" class="ar"/><polygon points="61.20,756.40 62.22,751.49 65.88,754.61" class="ah"/>
<line x1="67.70" y1="797.10" x2="58.76" y2="813.57" class="ar"/><polygon points="56.90,817.00 56.89,811.99 61.11,814.28" class="ah"/>
<line x1="69.90" y1="805.70" x2="62.29" y2="813.68" class="ar"/><polygon points="59.60,816.50 60.90,811.66 64.37,814.97" class="ah"/>
<line x1="189.60" y1="802.80" x2="189.60" y2="820.20" class="ar"/><polygon points="189.60,824.10 187.20,819.70 192.00,819.70" class="ah"/>
<line x1="203.30" y1="802.20" x2="203.30" y2="819.30" class="ar"/><polygon points="203.30,823.20 200.90,818.80 205.70,818.80" class="ah"/>
<line x1="211.50" y1="766.60" x2="211.50" y2="819.30" class="ar"/><polygon points="211.50,823.20 209.10,818.80 213.90,818.80" class="ah"/>
<line x1="247.40" y1="810.40" x2="247.40" y2="820.20" class="ar"/><polygon points="247.40,824.10 245.00,819.70 249.80,819.70" class="ah"/>
<line x1="275.10" y1="794.90" x2="275.10" y2="820.20" class="ar"/><polygon points="275.10,824.10 272.70,819.70 277.50,819.70" class="ah"/>
<line x1="280.40" y1="774.50" x2="288.91" y2="815.88" class="ar"/><polygon points="289.70,819.70 286.46,815.87 291.16,814.91" class="ah"/>
<line x1="293.20" y1="802.80" x2="293.20" y2="820.20" class="ar"/><polygon points="293.20,824.10 290.80,819.70 295.60,819.70" class="ah"/>
<line x1="302.80" y1="780.30" x2="300.01" y2="786.91" class="ar"/><polygon points="298.50,790.50 298.00,785.51 302.42,787.38" class="ah"/>
<line x1="307.80" y1="805.70" x2="307.80" y2="820.20" class="ar"/><polygon points="307.80,824.10 305.40,819.70 310.20,819.70" class="ah"/>
</svg></body></html>
